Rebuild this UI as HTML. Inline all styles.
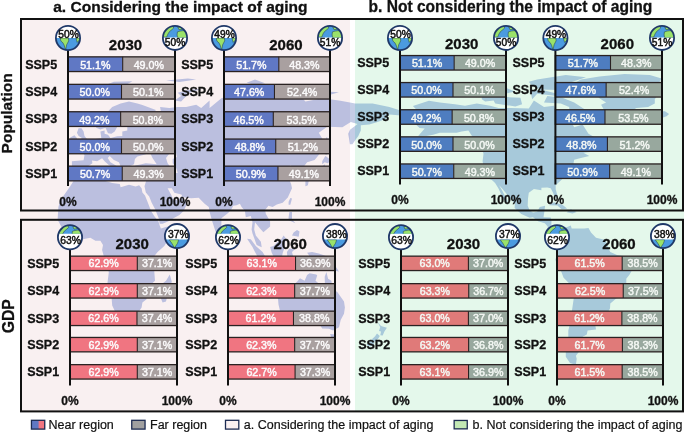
<!DOCTYPE html>
<html><head><meta charset="utf-8"><style>
html,body{margin:0;padding:0;background:#fff;}
body{width:685px;height:433px;position:relative;overflow:hidden;font-family:"Liberation Sans", sans-serif;}
svg{will-change:transform;}
</style></head><body>
<svg width="685" height="433" viewBox="0 0 685 433" style="position:absolute;left:0;top:0" font-family='"Liberation Sans", sans-serif'><defs><clipPath id="clipA"><rect x="20" y="18" width="330" height="394"/></clipPath><clipPath id="clipB"><rect x="355" y="18" width="329" height="394"/></clipPath><clipPath id="clipG"><rect x="350" y="18" width="5" height="394"/></clipPath></defs><rect width="685" height="433" fill="#ffffff"/><rect x="20" y="18" width="330" height="394" fill="#f9f0f1"/><rect x="355" y="18" width="329" height="394" fill="#e4f8eb"/><g clip-path="url(#clipA)"><path d="M76.9,175.8L70.2,186.2L60.1,200.7L58.4,206.9L57.6,219.8L61.8,227.4L65.2,233.6L73.6,240.8L80.3,239.7L90.4,237.7L95.4,240.8L100.4,240.8L103.0,244.9L102.1,250.0L103.8,256.2L107.2,262.3L108.8,272.6L107.2,284.9L111.4,295.2L112.2,305.5L117.2,315.9L118.1,320.9L120.6,321.7L130.7,320.0L137.4,313.8L141.6,307.6L142.4,302.4L146.6,299.3L146.3,293.1L148.3,286.9L155.0,280.8L154.2,270.5L152.5,262.3L154.2,256.2L157.6,252.1L164.3,245.9L169.3,237.7L172.7,228.5L172.7,225.4L166.0,227.0L160.9,228.5L159.7,225.4L158.4,221.3L154.2,216.1L151.7,212.0L149.5,206.9L147.5,201.7L145.0,195.5L142.4,192.4L141.6,188.3L139.1,185.2L135.7,186.4L129.0,184.7L120.6,187.2L119.8,184.1L112.2,183.1L105.5,181.0L103.8,173.7L100.4,173.7L92.0,174.1L83.6,177.7L76.9,175.8ZM169.8,274.6L171.8,281.8L170.2,285.9L167.6,295.2L166.0,301.4L162.6,302.4L160.4,297.3L160.9,291.1L161.8,283.9L166.0,280.8ZM71.9,170.2L71.9,161.2L83.6,160.3L84.5,154.9L79.4,149.6L85.3,147.5L90.4,144.3L93.7,142.2L95.4,139.0L101.3,138.0L100.4,131.6L104.6,130.5L104.6,133.7L108.0,134.8L110.5,138.0L117.2,136.3L122.3,135.9L122.3,131.6L127.3,130.5L127.3,126.3L134.0,125.2L125.6,124.1L123.1,123.0L123.1,118.7L129.0,114.4L124.0,112.7L116.4,119.8L118.1,125.2L114.7,131.6L111.4,133.7L108.0,133.3L105.5,127.8L100.4,129.5L96.2,127.8L95.4,122.0L100.4,117.7L107.2,112.3L112.2,106.9L120.6,103.6L129.0,101.4L137.4,103.6L142.4,105.1L155.9,110.1L154.2,112.3L145.8,116.6L150.8,115.5L160.9,111.9L160.1,106.9L169.3,108.0L177.7,106.9L186.1,106.9L196.2,104.7L201.2,108.0L209.6,100.4L209.6,108.0L221.4,98.2L233.2,94.9L251.6,89.4L261.7,86.8L275.2,90.5L276.8,95.6L300.4,96.0L305.4,101.4L322.2,98.2L339.0,100.4L355.8,103.6L372.6,103.6L389.4,106.9L406.2,112.3L401.2,115.5L389.4,114.4L386.0,118.7L377.6,122.0L369.2,124.5L360.8,125.2L360.8,130.5L358.3,135.9L352.4,144.3L349.9,144.3L348.2,133.7L349.9,129.9L357.5,124.1L350.8,122.0L342.4,127.3L327.2,126.7L318.8,132.7L323.0,140.1L323.9,148.6L322.2,150.7L314.6,160.1L307.1,162.2L304.6,165.4L302.9,170.6L304.6,176.8L299.5,178.9L298.7,172.7L296.2,168.5L291.1,169.6L292.8,166.4L290.3,165.4L285.2,169.6L286.9,173.3L292.8,172.9L288.6,177.9L291.1,184.1L292.0,188.3L287.8,197.6L282.7,202.7L276.8,204.4L272.6,206.9L268.4,205.8L265.1,210.0L265.9,214.1L270.1,221.3L270.1,226.4L263.4,232.2L260.0,228.5L255.0,222.3L254.2,229.5L255.8,235.6L260.9,241.8L261.7,247.3L256.7,244.9L252.5,233.6L251.6,229.5L252.5,222.3L250.8,216.1L245.8,217.2L244.9,211.0L241.6,206.9L239.9,203.8L236.5,205.2L233.2,205.8L231.5,209.3L228.1,213.1L221.4,218.2L221.4,228.5L218.0,233.6L215.5,231.5L212.2,221.3L209.6,212.0L208.8,206.9L204.6,203.8L202.1,201.3L198.7,197.8L191.2,198.2L182.8,197.2L181.4,194.5L174.4,192.8L171.8,188.3L167.6,188.3L171.0,194.5L173.5,199.7L177.7,200.3L181.9,195.9L187.0,203.8L183.6,211.0L179.4,215.1L174.4,217.8L168.5,221.3L162.6,223.7L159.7,223.7L158.7,218.2L155.0,208.9L151.7,202.7L149.2,196.6L145.8,192.4L144.5,186.2L145.8,182.0L147.5,176.8L144.1,174.6L137.4,175.4L132.4,173.7L131.5,167.5L135.7,165.4L145.8,163.3L156.7,164.3L152.5,158.0L150.0,152.8L143.3,154.9L137.4,156.4L134.9,159.1L134.0,164.3L130.7,165.8L127.3,166.4L125.6,168.5L124.8,173.7L123.1,173.7L122.3,170.6L119.8,164.3L118.9,162.2L113.9,160.1L109.7,155.9L107.7,158.0L110.5,162.2L113.9,164.3L118.1,167.0L114.7,169.6L113.9,171.6L113.2,167.5L108.8,165.0L104.6,161.2L102.1,158.2L97.1,161.2L92.0,160.6L92.4,163.3L87.8,166.4L86.5,168.9L87.0,170.6L83.6,174.3L77.8,175.8L76.1,173.9L72.0,173.7ZM77.4,146.4L89.5,143.9L89.9,140.7L87.0,139.0L84.5,135.9L83.6,131.6L81.5,128.2L78.6,128.2L76.9,132.7L78.6,135.9L82.0,138.0L79.3,139.5L79.4,142.2L78.1,142.9ZM76.9,141.8L76.9,138.0L74.4,135.2L70.2,137.6L70.2,143.1ZM654.8,116.6L651.5,113.4L654.8,111.4L664.9,111.2L669.1,114.0L666.6,116.2L661.6,117.9ZM221.4,237.7L224.4,235.6L223.1,230.5L221.1,232.6ZM305.4,186.2L307.9,185.2L308.8,180.4L313.8,181.0L316.8,178.9L322.2,177.9L323.9,171.6L325.6,168.5L324.7,164.3L322.2,166.4L321.4,171.6L317.2,173.7L315.5,176.6L310.4,176.8L307.1,178.9L305.4,181.0ZM322.2,164.3L324.7,162.2L327.7,163.3L331.4,160.6L325.6,155.9L324.7,157.0L322.2,161.2ZM325.6,154.9L328.1,153.8L327.2,148.6L328.9,147.9L327.2,137.3L326.4,137.3L325.6,144.3ZM288.6,204.8L290.3,204.8L292.0,198.6L290.3,198.0L288.6,201.7ZM269.3,211.0L273.5,210.0L271.8,208.9ZM288.6,220.2L291.1,221.3L295.3,223.3L292.0,219.2L292.0,212.0L289.4,212.0L288.6,217.2ZM292.0,235.6L298.7,236.7L299.5,231.5L297.0,229.9L293.6,232.6ZM270.1,246.9L273.5,245.9L276.8,242.8L281.0,239.7L283.6,235.6L286.9,239.7L285.2,241.0L284.4,247.9L282.7,253.1L281.9,257.2L279.4,257.2L273.5,256.2L271.8,253.1ZM247.1,238.7L250.8,239.3L255.8,245.9L262.6,252.1L265.1,256.2L264.9,261.9L262.6,261.9L258.4,258.2L255.0,252.1L252.5,246.9ZM263.7,263.9L265.1,262.3L270.1,263.9L276.0,263.9L279.4,265.8L279.4,267.6L271.8,266.8L265.9,265.2ZM287.8,261.3L289.4,261.3L289.4,255.1L291.1,259.8L293.6,258.2L292.0,252.1L297.0,246.9L293.6,249.0L289.4,248.4L286.9,252.1ZM307.1,252.7L312.1,252.1L318.8,253.5L323.9,255.3L330.6,258.2L334.8,262.3L335.6,266.4L339.0,271.5L334.0,270.5L328.9,266.0L323.9,268.5L318.8,266.4L319.7,263.3L313.8,259.0L309.6,258.2L308.8,255.1ZM277.7,295.2L278.5,304.5L280.2,311.7L280.2,320.0L285.2,322.1L293.6,319.6L298.7,316.5L307.1,314.8L313.8,321.7L318.0,318.0L318.8,323.2L322.2,328.4L328.9,328.8L333.1,330.4L339.0,327.3L340.7,320.0L344.0,313.8L344.9,307.6L344.0,301.4L340.3,296.2L337.3,292.1L332.6,289.0L331.4,280.8L328.1,278.7L326.4,271.9L324.7,276.7L324.9,283.9L323.0,285.9L320.5,284.9L315.5,280.8L317.2,275.6L316.3,274.6L309.6,273.2L307.1,275.0L304.6,280.8L300.0,278.3L297.0,281.8L292.3,285.9L290.3,290.0L283.6,292.5L278.5,294.8ZM330.1,334.0L336.1,334.4L335.6,338.8L333.6,340.1L331.1,337.1ZM377.1,320.9L380.2,325.2L381.8,326.3L386.9,327.7L384.4,331.5L382.7,335.5L380.3,335.3L381.0,331.5L379.0,330.9L380.2,327.3ZM377.0,333.6L379.8,336.1L378.1,338.8L374.3,342.0L373.6,344.9L369.7,346.4L366.7,345.1L370.1,340.9L375.1,336.3ZM409.6,113.1L418.0,111.2L412.9,106.0L428.9,100.8L439.8,102.5L454.9,104.3L465.0,105.8L476.8,103.6L490.2,105.8L498.6,108.0L510.4,108.0L528.8,108.4L533.9,100.4L544.0,106.9L554.0,105.8L557.4,114.4L561.6,119.8L570.8,121.3L574.2,127.3L582.6,124.5L588.5,133.7L596.0,138.0L597.7,143.3L592.7,151.7L583.4,152.8L589.3,155.9L580.9,158.0L574.2,159.7L573.4,163.9L567.5,166.4L565.0,170.6L564.1,173.9L565.0,177.3L562.4,178.9L559.1,182.0L555.7,185.2L555.7,189.3L557.4,195.5L556.6,198.2L554.5,196.6L552.9,192.4L550.7,188.3L547.3,187.4L541.4,187.7L541.4,190.3L533.9,189.1L528.8,192.8L528.0,198.6L527.7,205.8L529.7,210.4L533.0,212.6L537.2,211.8L539.8,206.9L545.1,205.8L544.3,212.0L543.5,217.2L550.7,217.6L551.5,221.3L551.2,227.4L554.9,231.5L558.2,230.5L561.6,232.6L560.8,234.6L557.4,234.6L554.5,233.6L547.8,229.5L547.7,226.4L544.8,223.3L538.1,221.3L533.0,217.2L529.7,217.8L521.3,214.1L514.6,207.9L514.9,203.8L509.5,197.6L502.8,189.3L499.1,185.2L502.0,190.3L507.0,199.7L507.8,202.7L503.6,199.0L500.3,192.4L498.6,188.7L495.1,183.1L491.9,180.0L489.2,178.9L486.0,172.7L483.5,166.4L482.6,161.2L483.5,153.8L482.3,149.8L485.2,148.6L477.6,144.8L472.6,136.9L468.4,130.5L461.6,131.6L456.6,132.7L446.5,132.7L439.8,132.7L433.1,134.8L426.4,135.9L418.0,136.3L424.7,128.4L419.6,128.0L415.4,124.1L413.8,119.8L421.3,115.5ZM569.2,86.1L580.9,79.5L599.4,76.6L624.6,73.9L649.8,75.0L661.6,78.4L658.2,83.9L661.6,89.4L654.8,99.3L654.8,103.6L648.1,106.9L636.4,108.0L628.0,113.1L622.9,119.8L619.6,125.2L614.5,123.5L607.8,118.7L605.3,112.3L601.1,104.7L606.1,102.5L599.4,98.2L594.4,91.6L580.9,89.4ZM587.6,111.2L584.3,115.5L580.9,119.8L572.5,119.2L567.5,115.5L560.8,116.0L569.2,111.2L569.2,106.9L560.8,103.6L544.0,102.5L547.3,96.0L562.4,97.7L574.2,102.5L579.2,105.8ZM493.6,100.4L495.2,103.6L515.4,106.4L522.1,104.3L520.4,97.7L507.0,97.1L493.6,96.0L481.8,99.3L485.2,101.4ZM540.6,89.4L557.4,90.1L565.8,83.9L586.0,77.3L565.8,75.0L537.2,79.5L528.8,81.7L532.2,86.1ZM557.4,96.0L537.2,93.8L532.2,99.3L530.5,91.6L540.6,89.6L557.4,93.8ZM481.8,99.3L498.6,94.9L515.4,91.6L507.0,88.3L490.2,89.4L481.8,94.9ZM561.6,232.6L565.8,227.4L570.8,225.4L571.7,228.5L577.6,228.5L584.3,228.5L588.5,228.1L591.0,232.6L596.0,237.7L604.4,239.7L606.1,241.8L607.8,246.9L610.3,252.1L617.0,255.1L624.6,256.2L629.6,260.3L633.0,262.3L633.0,268.5L629.6,274.6L626.3,278.7L626.3,285.9L623.8,292.1L621.2,297.3L616.2,298.5L610.3,303.4L610.0,308.6L607.0,313.8L602.8,320.0L599.4,322.1L595.2,324.2L596.0,329.4L587.6,330.4L586.8,334.6L582.6,336.7L583.4,338.8L581.8,343.0L578.4,346.2L580.9,349.3L575.9,355.7L576.7,358.8L575.9,364.8L570.0,363.1L565.8,356.7L565.8,349.3L568.3,338.8L568.3,330.4L571.5,318.0L571.8,311.7L573.9,297.3L573.7,287.8L570.8,284.9L563.6,277.7L560.8,270.5L556.1,262.3L555.4,259.2L557.4,255.1L556.6,251.0L558.2,246.9L559.4,246.3L561.6,241.8L561.9,236.7ZM549.0,205.2L554.0,202.3L562.4,204.8L567.1,208.5L561.6,209.3L557.4,205.4ZM566.6,212.2L570.8,209.3L576.7,212.0L572.5,213.5ZM174.4,100.4L181.1,96.0L177.7,92.7L187.8,89.9L202.1,88.8L189.5,92.7L181.1,101.4ZM105.5,85.0L113.9,81.7L132.4,81.3L124.0,86.1L115.6,89.2ZM246.6,82.8L255.0,79.5L265.1,83.2L255.0,85.0ZM315.5,94.9L325.6,91.6L339.0,92.3L323.9,96.6ZM166.0,80.6L187.8,78.4L196.2,79.5L179.4,82.1Z" fill="#bbbfdf"/><path d="M166.0,158.0L169.3,153.8L176.0,152.8L176.9,157.0L172.7,159.1L172.7,163.3L176.0,167.5L177.7,173.1L171.0,173.1L169.3,170.6L170.2,166.8L167.6,163.3Z" fill="#f9f0f1"/></g><g clip-path="url(#clipB)"><path d="M76.9,175.8L70.2,186.2L60.1,200.7L58.4,206.9L57.6,219.8L61.8,227.4L65.2,233.6L73.6,240.8L80.3,239.7L90.4,237.7L95.4,240.8L100.4,240.8L103.0,244.9L102.1,250.0L103.8,256.2L107.2,262.3L108.8,272.6L107.2,284.9L111.4,295.2L112.2,305.5L117.2,315.9L118.1,320.9L120.6,321.7L130.7,320.0L137.4,313.8L141.6,307.6L142.4,302.4L146.6,299.3L146.3,293.1L148.3,286.9L155.0,280.8L154.2,270.5L152.5,262.3L154.2,256.2L157.6,252.1L164.3,245.9L169.3,237.7L172.7,228.5L172.7,225.4L166.0,227.0L160.9,228.5L159.7,225.4L158.4,221.3L154.2,216.1L151.7,212.0L149.5,206.9L147.5,201.7L145.0,195.5L142.4,192.4L141.6,188.3L139.1,185.2L135.7,186.4L129.0,184.7L120.6,187.2L119.8,184.1L112.2,183.1L105.5,181.0L103.8,173.7L100.4,173.7L92.0,174.1L83.6,177.7L76.9,175.8ZM169.8,274.6L171.8,281.8L170.2,285.9L167.6,295.2L166.0,301.4L162.6,302.4L160.4,297.3L160.9,291.1L161.8,283.9L166.0,280.8ZM71.9,170.2L71.9,161.2L83.6,160.3L84.5,154.9L79.4,149.6L85.3,147.5L90.4,144.3L93.7,142.2L95.4,139.0L101.3,138.0L100.4,131.6L104.6,130.5L104.6,133.7L108.0,134.8L110.5,138.0L117.2,136.3L122.3,135.9L122.3,131.6L127.3,130.5L127.3,126.3L134.0,125.2L125.6,124.1L123.1,123.0L123.1,118.7L129.0,114.4L124.0,112.7L116.4,119.8L118.1,125.2L114.7,131.6L111.4,133.7L108.0,133.3L105.5,127.8L100.4,129.5L96.2,127.8L95.4,122.0L100.4,117.7L107.2,112.3L112.2,106.9L120.6,103.6L129.0,101.4L137.4,103.6L142.4,105.1L155.9,110.1L154.2,112.3L145.8,116.6L150.8,115.5L160.9,111.9L160.1,106.9L169.3,108.0L177.7,106.9L186.1,106.9L196.2,104.7L201.2,108.0L209.6,100.4L209.6,108.0L221.4,98.2L233.2,94.9L251.6,89.4L261.7,86.8L275.2,90.5L276.8,95.6L300.4,96.0L305.4,101.4L322.2,98.2L339.0,100.4L355.8,103.6L372.6,103.6L389.4,106.9L406.2,112.3L401.2,115.5L389.4,114.4L386.0,118.7L377.6,122.0L369.2,124.5L360.8,125.2L360.8,130.5L358.3,135.9L352.4,144.3L349.9,144.3L348.2,133.7L349.9,129.9L357.5,124.1L350.8,122.0L342.4,127.3L327.2,126.7L318.8,132.7L323.0,140.1L323.9,148.6L322.2,150.7L314.6,160.1L307.1,162.2L304.6,165.4L302.9,170.6L304.6,176.8L299.5,178.9L298.7,172.7L296.2,168.5L291.1,169.6L292.8,166.4L290.3,165.4L285.2,169.6L286.9,173.3L292.8,172.9L288.6,177.9L291.1,184.1L292.0,188.3L287.8,197.6L282.7,202.7L276.8,204.4L272.6,206.9L268.4,205.8L265.1,210.0L265.9,214.1L270.1,221.3L270.1,226.4L263.4,232.2L260.0,228.5L255.0,222.3L254.2,229.5L255.8,235.6L260.9,241.8L261.7,247.3L256.7,244.9L252.5,233.6L251.6,229.5L252.5,222.3L250.8,216.1L245.8,217.2L244.9,211.0L241.6,206.9L239.9,203.8L236.5,205.2L233.2,205.8L231.5,209.3L228.1,213.1L221.4,218.2L221.4,228.5L218.0,233.6L215.5,231.5L212.2,221.3L209.6,212.0L208.8,206.9L204.6,203.8L202.1,201.3L198.7,197.8L191.2,198.2L182.8,197.2L181.4,194.5L174.4,192.8L171.8,188.3L167.6,188.3L171.0,194.5L173.5,199.7L177.7,200.3L181.9,195.9L187.0,203.8L183.6,211.0L179.4,215.1L174.4,217.8L168.5,221.3L162.6,223.7L159.7,223.7L158.7,218.2L155.0,208.9L151.7,202.7L149.2,196.6L145.8,192.4L144.5,186.2L145.8,182.0L147.5,176.8L144.1,174.6L137.4,175.4L132.4,173.7L131.5,167.5L135.7,165.4L145.8,163.3L156.7,164.3L152.5,158.0L150.0,152.8L143.3,154.9L137.4,156.4L134.9,159.1L134.0,164.3L130.7,165.8L127.3,166.4L125.6,168.5L124.8,173.7L123.1,173.7L122.3,170.6L119.8,164.3L118.9,162.2L113.9,160.1L109.7,155.9L107.7,158.0L110.5,162.2L113.9,164.3L118.1,167.0L114.7,169.6L113.9,171.6L113.2,167.5L108.8,165.0L104.6,161.2L102.1,158.2L97.1,161.2L92.0,160.6L92.4,163.3L87.8,166.4L86.5,168.9L87.0,170.6L83.6,174.3L77.8,175.8L76.1,173.9L72.0,173.7ZM77.4,146.4L89.5,143.9L89.9,140.7L87.0,139.0L84.5,135.9L83.6,131.6L81.5,128.2L78.6,128.2L76.9,132.7L78.6,135.9L82.0,138.0L79.3,139.5L79.4,142.2L78.1,142.9ZM76.9,141.8L76.9,138.0L74.4,135.2L70.2,137.6L70.2,143.1ZM654.8,116.6L651.5,113.4L654.8,111.4L664.9,111.2L669.1,114.0L666.6,116.2L661.6,117.9ZM221.4,237.7L224.4,235.6L223.1,230.5L221.1,232.6ZM305.4,186.2L307.9,185.2L308.8,180.4L313.8,181.0L316.8,178.9L322.2,177.9L323.9,171.6L325.6,168.5L324.7,164.3L322.2,166.4L321.4,171.6L317.2,173.7L315.5,176.6L310.4,176.8L307.1,178.9L305.4,181.0ZM322.2,164.3L324.7,162.2L327.7,163.3L331.4,160.6L325.6,155.9L324.7,157.0L322.2,161.2ZM325.6,154.9L328.1,153.8L327.2,148.6L328.9,147.9L327.2,137.3L326.4,137.3L325.6,144.3ZM288.6,204.8L290.3,204.8L292.0,198.6L290.3,198.0L288.6,201.7ZM269.3,211.0L273.5,210.0L271.8,208.9ZM288.6,220.2L291.1,221.3L295.3,223.3L292.0,219.2L292.0,212.0L289.4,212.0L288.6,217.2ZM292.0,235.6L298.7,236.7L299.5,231.5L297.0,229.9L293.6,232.6ZM270.1,246.9L273.5,245.9L276.8,242.8L281.0,239.7L283.6,235.6L286.9,239.7L285.2,241.0L284.4,247.9L282.7,253.1L281.9,257.2L279.4,257.2L273.5,256.2L271.8,253.1ZM247.1,238.7L250.8,239.3L255.8,245.9L262.6,252.1L265.1,256.2L264.9,261.9L262.6,261.9L258.4,258.2L255.0,252.1L252.5,246.9ZM263.7,263.9L265.1,262.3L270.1,263.9L276.0,263.9L279.4,265.8L279.4,267.6L271.8,266.8L265.9,265.2ZM287.8,261.3L289.4,261.3L289.4,255.1L291.1,259.8L293.6,258.2L292.0,252.1L297.0,246.9L293.6,249.0L289.4,248.4L286.9,252.1ZM307.1,252.7L312.1,252.1L318.8,253.5L323.9,255.3L330.6,258.2L334.8,262.3L335.6,266.4L339.0,271.5L334.0,270.5L328.9,266.0L323.9,268.5L318.8,266.4L319.7,263.3L313.8,259.0L309.6,258.2L308.8,255.1ZM277.7,295.2L278.5,304.5L280.2,311.7L280.2,320.0L285.2,322.1L293.6,319.6L298.7,316.5L307.1,314.8L313.8,321.7L318.0,318.0L318.8,323.2L322.2,328.4L328.9,328.8L333.1,330.4L339.0,327.3L340.7,320.0L344.0,313.8L344.9,307.6L344.0,301.4L340.3,296.2L337.3,292.1L332.6,289.0L331.4,280.8L328.1,278.7L326.4,271.9L324.7,276.7L324.9,283.9L323.0,285.9L320.5,284.9L315.5,280.8L317.2,275.6L316.3,274.6L309.6,273.2L307.1,275.0L304.6,280.8L300.0,278.3L297.0,281.8L292.3,285.9L290.3,290.0L283.6,292.5L278.5,294.8ZM330.1,334.0L336.1,334.4L335.6,338.8L333.6,340.1L331.1,337.1ZM377.1,320.9L380.2,325.2L381.8,326.3L386.9,327.7L384.4,331.5L382.7,335.5L380.3,335.3L381.0,331.5L379.0,330.9L380.2,327.3ZM377.0,333.6L379.8,336.1L378.1,338.8L374.3,342.0L373.6,344.9L369.7,346.4L366.7,345.1L370.1,340.9L375.1,336.3ZM409.6,113.1L418.0,111.2L412.9,106.0L428.9,100.8L439.8,102.5L454.9,104.3L465.0,105.8L476.8,103.6L490.2,105.8L498.6,108.0L510.4,108.0L528.8,108.4L533.9,100.4L544.0,106.9L554.0,105.8L557.4,114.4L561.6,119.8L570.8,121.3L574.2,127.3L582.6,124.5L588.5,133.7L596.0,138.0L597.7,143.3L592.7,151.7L583.4,152.8L589.3,155.9L580.9,158.0L574.2,159.7L573.4,163.9L567.5,166.4L565.0,170.6L564.1,173.9L565.0,177.3L562.4,178.9L559.1,182.0L555.7,185.2L555.7,189.3L557.4,195.5L556.6,198.2L554.5,196.6L552.9,192.4L550.7,188.3L547.3,187.4L541.4,187.7L541.4,190.3L533.9,189.1L528.8,192.8L528.0,198.6L527.7,205.8L529.7,210.4L533.0,212.6L537.2,211.8L539.8,206.9L545.1,205.8L544.3,212.0L543.5,217.2L550.7,217.6L551.5,221.3L551.2,227.4L554.9,231.5L558.2,230.5L561.6,232.6L560.8,234.6L557.4,234.6L554.5,233.6L547.8,229.5L547.7,226.4L544.8,223.3L538.1,221.3L533.0,217.2L529.7,217.8L521.3,214.1L514.6,207.9L514.9,203.8L509.5,197.6L502.8,189.3L499.1,185.2L502.0,190.3L507.0,199.7L507.8,202.7L503.6,199.0L500.3,192.4L498.6,188.7L495.1,183.1L491.9,180.0L489.2,178.9L486.0,172.7L483.5,166.4L482.6,161.2L483.5,153.8L482.3,149.8L485.2,148.6L477.6,144.8L472.6,136.9L468.4,130.5L461.6,131.6L456.6,132.7L446.5,132.7L439.8,132.7L433.1,134.8L426.4,135.9L418.0,136.3L424.7,128.4L419.6,128.0L415.4,124.1L413.8,119.8L421.3,115.5ZM569.2,86.1L580.9,79.5L599.4,76.6L624.6,73.9L649.8,75.0L661.6,78.4L658.2,83.9L661.6,89.4L654.8,99.3L654.8,103.6L648.1,106.9L636.4,108.0L628.0,113.1L622.9,119.8L619.6,125.2L614.5,123.5L607.8,118.7L605.3,112.3L601.1,104.7L606.1,102.5L599.4,98.2L594.4,91.6L580.9,89.4ZM587.6,111.2L584.3,115.5L580.9,119.8L572.5,119.2L567.5,115.5L560.8,116.0L569.2,111.2L569.2,106.9L560.8,103.6L544.0,102.5L547.3,96.0L562.4,97.7L574.2,102.5L579.2,105.8ZM493.6,100.4L495.2,103.6L515.4,106.4L522.1,104.3L520.4,97.7L507.0,97.1L493.6,96.0L481.8,99.3L485.2,101.4ZM540.6,89.4L557.4,90.1L565.8,83.9L586.0,77.3L565.8,75.0L537.2,79.5L528.8,81.7L532.2,86.1ZM557.4,96.0L537.2,93.8L532.2,99.3L530.5,91.6L540.6,89.6L557.4,93.8ZM481.8,99.3L498.6,94.9L515.4,91.6L507.0,88.3L490.2,89.4L481.8,94.9ZM561.6,232.6L565.8,227.4L570.8,225.4L571.7,228.5L577.6,228.5L584.3,228.5L588.5,228.1L591.0,232.6L596.0,237.7L604.4,239.7L606.1,241.8L607.8,246.9L610.3,252.1L617.0,255.1L624.6,256.2L629.6,260.3L633.0,262.3L633.0,268.5L629.6,274.6L626.3,278.7L626.3,285.9L623.8,292.1L621.2,297.3L616.2,298.5L610.3,303.4L610.0,308.6L607.0,313.8L602.8,320.0L599.4,322.1L595.2,324.2L596.0,329.4L587.6,330.4L586.8,334.6L582.6,336.7L583.4,338.8L581.8,343.0L578.4,346.2L580.9,349.3L575.9,355.7L576.7,358.8L575.9,364.8L570.0,363.1L565.8,356.7L565.8,349.3L568.3,338.8L568.3,330.4L571.5,318.0L571.8,311.7L573.9,297.3L573.7,287.8L570.8,284.9L563.6,277.7L560.8,270.5L556.1,262.3L555.4,259.2L557.4,255.1L556.6,251.0L558.2,246.9L559.4,246.3L561.6,241.8L561.9,236.7ZM549.0,205.2L554.0,202.3L562.4,204.8L567.1,208.5L561.6,209.3L557.4,205.4ZM566.6,212.2L570.8,209.3L576.7,212.0L572.5,213.5ZM174.4,100.4L181.1,96.0L177.7,92.7L187.8,89.9L202.1,88.8L189.5,92.7L181.1,101.4ZM105.5,85.0L113.9,81.7L132.4,81.3L124.0,86.1L115.6,89.2ZM246.6,82.8L255.0,79.5L265.1,83.2L255.0,85.0ZM315.5,94.9L325.6,91.6L339.0,92.3L323.9,96.6ZM166.0,80.6L187.8,78.4L196.2,79.5L179.4,82.1Z" fill="#a7c9da"/><path d="M166.0,158.0L169.3,153.8L176.0,152.8L176.9,157.0L172.7,159.1L172.7,163.3L176.0,167.5L177.7,173.1L171.0,173.1L169.3,170.6L170.2,166.8L167.6,163.3Z" fill="#e4f8eb"/></g><g clip-path="url(#clipG)"><path d="M76.9,175.8L70.2,186.2L60.1,200.7L58.4,206.9L57.6,219.8L61.8,227.4L65.2,233.6L73.6,240.8L80.3,239.7L90.4,237.7L95.4,240.8L100.4,240.8L103.0,244.9L102.1,250.0L103.8,256.2L107.2,262.3L108.8,272.6L107.2,284.9L111.4,295.2L112.2,305.5L117.2,315.9L118.1,320.9L120.6,321.7L130.7,320.0L137.4,313.8L141.6,307.6L142.4,302.4L146.6,299.3L146.3,293.1L148.3,286.9L155.0,280.8L154.2,270.5L152.5,262.3L154.2,256.2L157.6,252.1L164.3,245.9L169.3,237.7L172.7,228.5L172.7,225.4L166.0,227.0L160.9,228.5L159.7,225.4L158.4,221.3L154.2,216.1L151.7,212.0L149.5,206.9L147.5,201.7L145.0,195.5L142.4,192.4L141.6,188.3L139.1,185.2L135.7,186.4L129.0,184.7L120.6,187.2L119.8,184.1L112.2,183.1L105.5,181.0L103.8,173.7L100.4,173.7L92.0,174.1L83.6,177.7L76.9,175.8ZM169.8,274.6L171.8,281.8L170.2,285.9L167.6,295.2L166.0,301.4L162.6,302.4L160.4,297.3L160.9,291.1L161.8,283.9L166.0,280.8ZM71.9,170.2L71.9,161.2L83.6,160.3L84.5,154.9L79.4,149.6L85.3,147.5L90.4,144.3L93.7,142.2L95.4,139.0L101.3,138.0L100.4,131.6L104.6,130.5L104.6,133.7L108.0,134.8L110.5,138.0L117.2,136.3L122.3,135.9L122.3,131.6L127.3,130.5L127.3,126.3L134.0,125.2L125.6,124.1L123.1,123.0L123.1,118.7L129.0,114.4L124.0,112.7L116.4,119.8L118.1,125.2L114.7,131.6L111.4,133.7L108.0,133.3L105.5,127.8L100.4,129.5L96.2,127.8L95.4,122.0L100.4,117.7L107.2,112.3L112.2,106.9L120.6,103.6L129.0,101.4L137.4,103.6L142.4,105.1L155.9,110.1L154.2,112.3L145.8,116.6L150.8,115.5L160.9,111.9L160.1,106.9L169.3,108.0L177.7,106.9L186.1,106.9L196.2,104.7L201.2,108.0L209.6,100.4L209.6,108.0L221.4,98.2L233.2,94.9L251.6,89.4L261.7,86.8L275.2,90.5L276.8,95.6L300.4,96.0L305.4,101.4L322.2,98.2L339.0,100.4L355.8,103.6L372.6,103.6L389.4,106.9L406.2,112.3L401.2,115.5L389.4,114.4L386.0,118.7L377.6,122.0L369.2,124.5L360.8,125.2L360.8,130.5L358.3,135.9L352.4,144.3L349.9,144.3L348.2,133.7L349.9,129.9L357.5,124.1L350.8,122.0L342.4,127.3L327.2,126.7L318.8,132.7L323.0,140.1L323.9,148.6L322.2,150.7L314.6,160.1L307.1,162.2L304.6,165.4L302.9,170.6L304.6,176.8L299.5,178.9L298.7,172.7L296.2,168.5L291.1,169.6L292.8,166.4L290.3,165.4L285.2,169.6L286.9,173.3L292.8,172.9L288.6,177.9L291.1,184.1L292.0,188.3L287.8,197.6L282.7,202.7L276.8,204.4L272.6,206.9L268.4,205.8L265.1,210.0L265.9,214.1L270.1,221.3L270.1,226.4L263.4,232.2L260.0,228.5L255.0,222.3L254.2,229.5L255.8,235.6L260.9,241.8L261.7,247.3L256.7,244.9L252.5,233.6L251.6,229.5L252.5,222.3L250.8,216.1L245.8,217.2L244.9,211.0L241.6,206.9L239.9,203.8L236.5,205.2L233.2,205.8L231.5,209.3L228.1,213.1L221.4,218.2L221.4,228.5L218.0,233.6L215.5,231.5L212.2,221.3L209.6,212.0L208.8,206.9L204.6,203.8L202.1,201.3L198.7,197.8L191.2,198.2L182.8,197.2L181.4,194.5L174.4,192.8L171.8,188.3L167.6,188.3L171.0,194.5L173.5,199.7L177.7,200.3L181.9,195.9L187.0,203.8L183.6,211.0L179.4,215.1L174.4,217.8L168.5,221.3L162.6,223.7L159.7,223.7L158.7,218.2L155.0,208.9L151.7,202.7L149.2,196.6L145.8,192.4L144.5,186.2L145.8,182.0L147.5,176.8L144.1,174.6L137.4,175.4L132.4,173.7L131.5,167.5L135.7,165.4L145.8,163.3L156.7,164.3L152.5,158.0L150.0,152.8L143.3,154.9L137.4,156.4L134.9,159.1L134.0,164.3L130.7,165.8L127.3,166.4L125.6,168.5L124.8,173.7L123.1,173.7L122.3,170.6L119.8,164.3L118.9,162.2L113.9,160.1L109.7,155.9L107.7,158.0L110.5,162.2L113.9,164.3L118.1,167.0L114.7,169.6L113.9,171.6L113.2,167.5L108.8,165.0L104.6,161.2L102.1,158.2L97.1,161.2L92.0,160.6L92.4,163.3L87.8,166.4L86.5,168.9L87.0,170.6L83.6,174.3L77.8,175.8L76.1,173.9L72.0,173.7ZM77.4,146.4L89.5,143.9L89.9,140.7L87.0,139.0L84.5,135.9L83.6,131.6L81.5,128.2L78.6,128.2L76.9,132.7L78.6,135.9L82.0,138.0L79.3,139.5L79.4,142.2L78.1,142.9ZM76.9,141.8L76.9,138.0L74.4,135.2L70.2,137.6L70.2,143.1ZM654.8,116.6L651.5,113.4L654.8,111.4L664.9,111.2L669.1,114.0L666.6,116.2L661.6,117.9ZM221.4,237.7L224.4,235.6L223.1,230.5L221.1,232.6ZM305.4,186.2L307.9,185.2L308.8,180.4L313.8,181.0L316.8,178.9L322.2,177.9L323.9,171.6L325.6,168.5L324.7,164.3L322.2,166.4L321.4,171.6L317.2,173.7L315.5,176.6L310.4,176.8L307.1,178.9L305.4,181.0ZM322.2,164.3L324.7,162.2L327.7,163.3L331.4,160.6L325.6,155.9L324.7,157.0L322.2,161.2ZM325.6,154.9L328.1,153.8L327.2,148.6L328.9,147.9L327.2,137.3L326.4,137.3L325.6,144.3ZM288.6,204.8L290.3,204.8L292.0,198.6L290.3,198.0L288.6,201.7ZM269.3,211.0L273.5,210.0L271.8,208.9ZM288.6,220.2L291.1,221.3L295.3,223.3L292.0,219.2L292.0,212.0L289.4,212.0L288.6,217.2ZM292.0,235.6L298.7,236.7L299.5,231.5L297.0,229.9L293.6,232.6ZM270.1,246.9L273.5,245.9L276.8,242.8L281.0,239.7L283.6,235.6L286.9,239.7L285.2,241.0L284.4,247.9L282.7,253.1L281.9,257.2L279.4,257.2L273.5,256.2L271.8,253.1ZM247.1,238.7L250.8,239.3L255.8,245.9L262.6,252.1L265.1,256.2L264.9,261.9L262.6,261.9L258.4,258.2L255.0,252.1L252.5,246.9ZM263.7,263.9L265.1,262.3L270.1,263.9L276.0,263.9L279.4,265.8L279.4,267.6L271.8,266.8L265.9,265.2ZM287.8,261.3L289.4,261.3L289.4,255.1L291.1,259.8L293.6,258.2L292.0,252.1L297.0,246.9L293.6,249.0L289.4,248.4L286.9,252.1ZM307.1,252.7L312.1,252.1L318.8,253.5L323.9,255.3L330.6,258.2L334.8,262.3L335.6,266.4L339.0,271.5L334.0,270.5L328.9,266.0L323.9,268.5L318.8,266.4L319.7,263.3L313.8,259.0L309.6,258.2L308.8,255.1ZM277.7,295.2L278.5,304.5L280.2,311.7L280.2,320.0L285.2,322.1L293.6,319.6L298.7,316.5L307.1,314.8L313.8,321.7L318.0,318.0L318.8,323.2L322.2,328.4L328.9,328.8L333.1,330.4L339.0,327.3L340.7,320.0L344.0,313.8L344.9,307.6L344.0,301.4L340.3,296.2L337.3,292.1L332.6,289.0L331.4,280.8L328.1,278.7L326.4,271.9L324.7,276.7L324.9,283.9L323.0,285.9L320.5,284.9L315.5,280.8L317.2,275.6L316.3,274.6L309.6,273.2L307.1,275.0L304.6,280.8L300.0,278.3L297.0,281.8L292.3,285.9L290.3,290.0L283.6,292.5L278.5,294.8ZM330.1,334.0L336.1,334.4L335.6,338.8L333.6,340.1L331.1,337.1ZM377.1,320.9L380.2,325.2L381.8,326.3L386.9,327.7L384.4,331.5L382.7,335.5L380.3,335.3L381.0,331.5L379.0,330.9L380.2,327.3ZM377.0,333.6L379.8,336.1L378.1,338.8L374.3,342.0L373.6,344.9L369.7,346.4L366.7,345.1L370.1,340.9L375.1,336.3ZM409.6,113.1L418.0,111.2L412.9,106.0L428.9,100.8L439.8,102.5L454.9,104.3L465.0,105.8L476.8,103.6L490.2,105.8L498.6,108.0L510.4,108.0L528.8,108.4L533.9,100.4L544.0,106.9L554.0,105.8L557.4,114.4L561.6,119.8L570.8,121.3L574.2,127.3L582.6,124.5L588.5,133.7L596.0,138.0L597.7,143.3L592.7,151.7L583.4,152.8L589.3,155.9L580.9,158.0L574.2,159.7L573.4,163.9L567.5,166.4L565.0,170.6L564.1,173.9L565.0,177.3L562.4,178.9L559.1,182.0L555.7,185.2L555.7,189.3L557.4,195.5L556.6,198.2L554.5,196.6L552.9,192.4L550.7,188.3L547.3,187.4L541.4,187.7L541.4,190.3L533.9,189.1L528.8,192.8L528.0,198.6L527.7,205.8L529.7,210.4L533.0,212.6L537.2,211.8L539.8,206.9L545.1,205.8L544.3,212.0L543.5,217.2L550.7,217.6L551.5,221.3L551.2,227.4L554.9,231.5L558.2,230.5L561.6,232.6L560.8,234.6L557.4,234.6L554.5,233.6L547.8,229.5L547.7,226.4L544.8,223.3L538.1,221.3L533.0,217.2L529.7,217.8L521.3,214.1L514.6,207.9L514.9,203.8L509.5,197.6L502.8,189.3L499.1,185.2L502.0,190.3L507.0,199.7L507.8,202.7L503.6,199.0L500.3,192.4L498.6,188.7L495.1,183.1L491.9,180.0L489.2,178.9L486.0,172.7L483.5,166.4L482.6,161.2L483.5,153.8L482.3,149.8L485.2,148.6L477.6,144.8L472.6,136.9L468.4,130.5L461.6,131.6L456.6,132.7L446.5,132.7L439.8,132.7L433.1,134.8L426.4,135.9L418.0,136.3L424.7,128.4L419.6,128.0L415.4,124.1L413.8,119.8L421.3,115.5ZM569.2,86.1L580.9,79.5L599.4,76.6L624.6,73.9L649.8,75.0L661.6,78.4L658.2,83.9L661.6,89.4L654.8,99.3L654.8,103.6L648.1,106.9L636.4,108.0L628.0,113.1L622.9,119.8L619.6,125.2L614.5,123.5L607.8,118.7L605.3,112.3L601.1,104.7L606.1,102.5L599.4,98.2L594.4,91.6L580.9,89.4ZM587.6,111.2L584.3,115.5L580.9,119.8L572.5,119.2L567.5,115.5L560.8,116.0L569.2,111.2L569.2,106.9L560.8,103.6L544.0,102.5L547.3,96.0L562.4,97.7L574.2,102.5L579.2,105.8ZM493.6,100.4L495.2,103.6L515.4,106.4L522.1,104.3L520.4,97.7L507.0,97.1L493.6,96.0L481.8,99.3L485.2,101.4ZM540.6,89.4L557.4,90.1L565.8,83.9L586.0,77.3L565.8,75.0L537.2,79.5L528.8,81.7L532.2,86.1ZM557.4,96.0L537.2,93.8L532.2,99.3L530.5,91.6L540.6,89.6L557.4,93.8ZM481.8,99.3L498.6,94.9L515.4,91.6L507.0,88.3L490.2,89.4L481.8,94.9ZM561.6,232.6L565.8,227.4L570.8,225.4L571.7,228.5L577.6,228.5L584.3,228.5L588.5,228.1L591.0,232.6L596.0,237.7L604.4,239.7L606.1,241.8L607.8,246.9L610.3,252.1L617.0,255.1L624.6,256.2L629.6,260.3L633.0,262.3L633.0,268.5L629.6,274.6L626.3,278.7L626.3,285.9L623.8,292.1L621.2,297.3L616.2,298.5L610.3,303.4L610.0,308.6L607.0,313.8L602.8,320.0L599.4,322.1L595.2,324.2L596.0,329.4L587.6,330.4L586.8,334.6L582.6,336.7L583.4,338.8L581.8,343.0L578.4,346.2L580.9,349.3L575.9,355.7L576.7,358.8L575.9,364.8L570.0,363.1L565.8,356.7L565.8,349.3L568.3,338.8L568.3,330.4L571.5,318.0L571.8,311.7L573.9,297.3L573.7,287.8L570.8,284.9L563.6,277.7L560.8,270.5L556.1,262.3L555.4,259.2L557.4,255.1L556.6,251.0L558.2,246.9L559.4,246.3L561.6,241.8L561.9,236.7ZM549.0,205.2L554.0,202.3L562.4,204.8L567.1,208.5L561.6,209.3L557.4,205.4ZM566.6,212.2L570.8,209.3L576.7,212.0L572.5,213.5ZM174.4,100.4L181.1,96.0L177.7,92.7L187.8,89.9L202.1,88.8L189.5,92.7L181.1,101.4ZM105.5,85.0L113.9,81.7L132.4,81.3L124.0,86.1L115.6,89.2ZM246.6,82.8L255.0,79.5L265.1,83.2L255.0,85.0ZM315.5,94.9L325.6,91.6L339.0,92.3L323.9,96.6ZM166.0,80.6L187.8,78.4L196.2,79.5L179.4,82.1Z" fill="#c4cde6"/><path d="M166.0,158.0L169.3,153.8L176.0,152.8L176.9,157.0L172.7,159.1L172.7,163.3L176.0,167.5L177.7,173.1L171.0,173.1L169.3,170.6L170.2,166.8L167.6,163.3Z" fill="#ffffff"/></g><text x="180.4" y="12.4" text-anchor="middle" font-size="15.52" font-weight="bold" fill="#111" stroke="#111" stroke-width="0.3">a. Considering the impact of aging</text><text x="510.4" y="12.4" text-anchor="middle" font-size="15.58" font-weight="bold" fill="#111" stroke="#111" stroke-width="0.3">b. Not considering the impact of aging</text><rect x="21" y="19" width="662" height="191.5" fill="none" stroke="#111" stroke-width="2"/><rect x="21" y="219.8" width="662" height="191.6" fill="none" stroke="#111" stroke-width="2"/><text transform="translate(12.1,113.4) rotate(-90)" text-anchor="middle" font-size="15.5" font-weight="bold" fill="#111" stroke="#111" stroke-width="0.3">Population</text><text transform="translate(14.0,316.2) rotate(-90)" text-anchor="middle" font-size="15.7" font-weight="bold" fill="#111" stroke="#111" stroke-width="0.3">GDP</text><rect x="68" y="56.85" width="54.68" height="14.70" fill="#6078c4"/><rect x="122.68" y="56.85" width="52.32" height="14.70" fill="#a9a0a0"/><rect x="68" y="56.85" width="107" height="14.70" fill="none" stroke="#2a2222" stroke-width="1.3"/><line x1="122.68" y1="56.85" x2="122.68" y2="71.55" stroke="#2a2222" stroke-width="1.1"/><text x="95.34" y="68.60" text-anchor="middle" font-size="10.7" fill="#fbfafb" stroke="#fbfafb" stroke-width="0.45">51.1%</text><text x="148.84" y="68.60" text-anchor="middle" font-size="10.7" fill="#fbfafb" stroke="#fbfafb" stroke-width="0.45">49.0%</text><text x="57.1" y="68.50" text-anchor="end" font-size="12.5" font-weight="bold" fill="#111" stroke="#111" stroke-width="0.3">SSP5</text><rect x="68" y="84.35" width="53.50" height="14.70" fill="#6078c4"/><rect x="121.50" y="84.35" width="53.50" height="14.70" fill="#a9a0a0"/><rect x="68" y="84.35" width="107" height="14.70" fill="none" stroke="#2a2222" stroke-width="1.3"/><line x1="121.50" y1="84.35" x2="121.50" y2="99.05" stroke="#2a2222" stroke-width="1.1"/><text x="94.75" y="96.10" text-anchor="middle" font-size="10.7" fill="#fbfafb" stroke="#fbfafb" stroke-width="0.45">50.0%</text><text x="148.25" y="96.10" text-anchor="middle" font-size="10.7" fill="#fbfafb" stroke="#fbfafb" stroke-width="0.45">50.1%</text><text x="57.1" y="96.00" text-anchor="end" font-size="12.5" font-weight="bold" fill="#111" stroke="#111" stroke-width="0.3">SSP4</text><rect x="68" y="111.75" width="52.64" height="14.70" fill="#6078c4"/><rect x="120.64" y="111.75" width="54.36" height="14.70" fill="#a9a0a0"/><rect x="68" y="111.75" width="107" height="14.70" fill="none" stroke="#2a2222" stroke-width="1.3"/><line x1="120.64" y1="111.75" x2="120.64" y2="126.45" stroke="#2a2222" stroke-width="1.1"/><text x="94.32" y="123.50" text-anchor="middle" font-size="10.7" fill="#fbfafb" stroke="#fbfafb" stroke-width="0.45">49.2%</text><text x="147.82" y="123.50" text-anchor="middle" font-size="10.7" fill="#fbfafb" stroke="#fbfafb" stroke-width="0.45">50.8%</text><text x="57.1" y="123.40" text-anchor="end" font-size="12.5" font-weight="bold" fill="#111" stroke="#111" stroke-width="0.3">SSP3</text><rect x="68" y="139.05" width="53.50" height="14.70" fill="#6078c4"/><rect x="121.50" y="139.05" width="53.50" height="14.70" fill="#a9a0a0"/><rect x="68" y="139.05" width="107" height="14.70" fill="none" stroke="#2a2222" stroke-width="1.3"/><line x1="121.50" y1="139.05" x2="121.50" y2="153.75" stroke="#2a2222" stroke-width="1.1"/><text x="94.75" y="150.80" text-anchor="middle" font-size="10.7" fill="#fbfafb" stroke="#fbfafb" stroke-width="0.45">50.0%</text><text x="148.25" y="150.80" text-anchor="middle" font-size="10.7" fill="#fbfafb" stroke="#fbfafb" stroke-width="0.45">50.0%</text><text x="57.1" y="150.70" text-anchor="end" font-size="12.5" font-weight="bold" fill="#111" stroke="#111" stroke-width="0.3">SSP2</text><rect x="68" y="166.15" width="54.25" height="14.70" fill="#6078c4"/><rect x="122.25" y="166.15" width="52.75" height="14.70" fill="#a9a0a0"/><rect x="68" y="166.15" width="107" height="14.70" fill="none" stroke="#2a2222" stroke-width="1.3"/><line x1="122.25" y1="166.15" x2="122.25" y2="180.85" stroke="#2a2222" stroke-width="1.1"/><text x="95.12" y="177.90" text-anchor="middle" font-size="10.7" fill="#fbfafb" stroke="#fbfafb" stroke-width="0.45">50.7%</text><text x="148.62" y="177.90" text-anchor="middle" font-size="10.7" fill="#fbfafb" stroke="#fbfafb" stroke-width="0.45">49.3%</text><text x="57.1" y="177.80" text-anchor="end" font-size="12.5" font-weight="bold" fill="#111" stroke="#111" stroke-width="0.3">SSP1</text><line x1="68" y1="50" x2="68" y2="186" stroke="#111" stroke-width="2"/><line x1="175" y1="50" x2="175" y2="186" stroke="#111" stroke-width="2"/><text x="125.5" y="49.9" text-anchor="middle" font-size="15" font-weight="bold" fill="#111" stroke="#111" stroke-width="0.3">2030</text><text x="68" y="205.5" text-anchor="middle" font-size="12" font-weight="bold" fill="#111" stroke="#111" stroke-width="0.3">0%</text><text x="175" y="205.5" text-anchor="middle" font-size="12" font-weight="bold" fill="#111" stroke="#111" stroke-width="0.3">100%</text><g transform="translate(68,38)"><circle r="12.1" fill="#ffffff"/><clipPath id="gr1"><rect x="-13" y="0" width="26" height="13.1"/></clipPath><clipPath id="gc1"><circle r="12.1"/></clipPath><g clip-path="url(#gr1)"><g clip-path="url(#gc1)"><circle r="12.1" fill="#4b9be0"/><path d="M-7.7,0L-7.4,2.2L-6.4,3.8L-5.1,4.8L-3.8,7.3L-2.6,11.2L-2.2,11.2L-1.3,6.7L-0.3,4.8L0.7,2.8L0.4,0Z" fill="#9ae26a" stroke="#203a40" stroke-width="0.5"/><path d="M8,0L8.5,2L9.2,4.4L10.5,3L12.5,1L12.5,0Z" fill="#9ae26a" stroke="#203a40" stroke-width="0.5"/></g></g><circle r="12.1" fill="none" stroke="#1f3868" stroke-width="1.8"/><text transform="translate(0.5,0.2) scale(1.0,1)" text-anchor="middle" font-size="10.2" fill="#111" stroke="#111" stroke-width="0.5">50%</text></g><g transform="translate(175,37.9)"><circle r="12.1" fill="#ffffff"/><clipPath id="gr2"><rect x="-13" y="-13.1" width="26" height="12.6"/></clipPath><clipPath id="gc2"><circle r="12.1"/></clipPath><g clip-path="url(#gr2)"><g clip-path="url(#gc2)"><circle r="12.1" fill="#4b9be0"/><path d="M-12.5,-0.8L-12,-4.8L-9.8,-8L-6.5,-10.6L-2.6,-12.2L-1.2,-10L-3.2,-8.2L-5.6,-6.2L-7,-4L-7.8,-2L-8.4,-0.8Z" fill="#9ae26a" stroke="#203a40" stroke-width="0.5"/><path d="M2.8,-10.8L6.5,-11L7.2,-8.6L4,-8.2Z" fill="#9ae26a" stroke="#203a40" stroke-width="0.5"/><path d="M2.4,-6L5,-6.8L8,-7.2L11,-6.8L12.8,-3L12.8,0L2.6,0L2.1,-3Z" fill="#9ae26a" stroke="#203a40" stroke-width="0.5"/></g></g><circle r="12.1" fill="none" stroke="#1f3868" stroke-width="1.8"/><text transform="translate(0.0,7.8) scale(1.0,1)" text-anchor="middle" font-size="10.2" fill="#111" stroke="#111" stroke-width="0.5">50%</text></g><rect x="224" y="56.85" width="54.80" height="14.70" fill="#6078c4"/><rect x="278.80" y="56.85" width="51.20" height="14.70" fill="#a9a0a0"/><rect x="224" y="56.85" width="106" height="14.70" fill="none" stroke="#2a2222" stroke-width="1.3"/><line x1="278.80" y1="56.85" x2="278.80" y2="71.55" stroke="#2a2222" stroke-width="1.1"/><text x="251.40" y="68.60" text-anchor="middle" font-size="10.7" fill="#fbfafb" stroke="#fbfafb" stroke-width="0.45">51.7%</text><text x="304.40" y="68.60" text-anchor="middle" font-size="10.7" fill="#fbfafb" stroke="#fbfafb" stroke-width="0.45">48.3%</text><text x="213.1" y="68.50" text-anchor="end" font-size="12.5" font-weight="bold" fill="#111" stroke="#111" stroke-width="0.3">SSP5</text><rect x="224" y="84.35" width="50.46" height="14.70" fill="#6078c4"/><rect x="274.46" y="84.35" width="55.54" height="14.70" fill="#a9a0a0"/><rect x="224" y="84.35" width="106" height="14.70" fill="none" stroke="#2a2222" stroke-width="1.3"/><line x1="274.46" y1="84.35" x2="274.46" y2="99.05" stroke="#2a2222" stroke-width="1.1"/><text x="249.23" y="96.10" text-anchor="middle" font-size="10.7" fill="#fbfafb" stroke="#fbfafb" stroke-width="0.45">47.6%</text><text x="302.23" y="96.10" text-anchor="middle" font-size="10.7" fill="#fbfafb" stroke="#fbfafb" stroke-width="0.45">52.4%</text><text x="213.1" y="96.00" text-anchor="end" font-size="12.5" font-weight="bold" fill="#111" stroke="#111" stroke-width="0.3">SSP4</text><rect x="224" y="111.75" width="49.29" height="14.70" fill="#6078c4"/><rect x="273.29" y="111.75" width="56.71" height="14.70" fill="#a9a0a0"/><rect x="224" y="111.75" width="106" height="14.70" fill="none" stroke="#2a2222" stroke-width="1.3"/><line x1="273.29" y1="111.75" x2="273.29" y2="126.45" stroke="#2a2222" stroke-width="1.1"/><text x="248.65" y="123.50" text-anchor="middle" font-size="10.7" fill="#fbfafb" stroke="#fbfafb" stroke-width="0.45">46.5%</text><text x="301.64" y="123.50" text-anchor="middle" font-size="10.7" fill="#fbfafb" stroke="#fbfafb" stroke-width="0.45">53.5%</text><text x="213.1" y="123.40" text-anchor="end" font-size="12.5" font-weight="bold" fill="#111" stroke="#111" stroke-width="0.3">SSP3</text><rect x="224" y="139.05" width="51.73" height="14.70" fill="#6078c4"/><rect x="275.73" y="139.05" width="54.27" height="14.70" fill="#a9a0a0"/><rect x="224" y="139.05" width="106" height="14.70" fill="none" stroke="#2a2222" stroke-width="1.3"/><line x1="275.73" y1="139.05" x2="275.73" y2="153.75" stroke="#2a2222" stroke-width="1.1"/><text x="249.86" y="150.80" text-anchor="middle" font-size="10.7" fill="#fbfafb" stroke="#fbfafb" stroke-width="0.45">48.8%</text><text x="302.86" y="150.80" text-anchor="middle" font-size="10.7" fill="#fbfafb" stroke="#fbfafb" stroke-width="0.45">51.2%</text><text x="213.1" y="150.70" text-anchor="end" font-size="12.5" font-weight="bold" fill="#111" stroke="#111" stroke-width="0.3">SSP2</text><rect x="224" y="166.15" width="53.95" height="14.70" fill="#6078c4"/><rect x="277.95" y="166.15" width="52.05" height="14.70" fill="#a9a0a0"/><rect x="224" y="166.15" width="106" height="14.70" fill="none" stroke="#2a2222" stroke-width="1.3"/><line x1="277.95" y1="166.15" x2="277.95" y2="180.85" stroke="#2a2222" stroke-width="1.1"/><text x="250.98" y="177.90" text-anchor="middle" font-size="10.7" fill="#fbfafb" stroke="#fbfafb" stroke-width="0.45">50.9%</text><text x="303.98" y="177.90" text-anchor="middle" font-size="10.7" fill="#fbfafb" stroke="#fbfafb" stroke-width="0.45">49.1%</text><text x="213.1" y="177.80" text-anchor="end" font-size="12.5" font-weight="bold" fill="#111" stroke="#111" stroke-width="0.3">SSP1</text><line x1="224" y1="50" x2="224" y2="186" stroke="#111" stroke-width="2"/><line x1="330" y1="50" x2="330" y2="186" stroke="#111" stroke-width="2"/><text x="285.9" y="49.9" text-anchor="middle" font-size="15" font-weight="bold" fill="#111" stroke="#111" stroke-width="0.3">2060</text><text x="224" y="205.5" text-anchor="middle" font-size="12" font-weight="bold" fill="#111" stroke="#111" stroke-width="0.3">0%</text><text x="330" y="205.5" text-anchor="middle" font-size="12" font-weight="bold" fill="#111" stroke="#111" stroke-width="0.3">100%</text><g transform="translate(224,38)"><circle r="12.1" fill="#ffffff"/><clipPath id="gr3"><rect x="-13" y="0" width="26" height="13.1"/></clipPath><clipPath id="gc3"><circle r="12.1"/></clipPath><g clip-path="url(#gr3)"><g clip-path="url(#gc3)"><circle r="12.1" fill="#4b9be0"/><path d="M-7.7,0L-7.4,2.2L-6.4,3.8L-5.1,4.8L-3.8,7.3L-2.6,11.2L-2.2,11.2L-1.3,6.7L-0.3,4.8L0.7,2.8L0.4,0Z" fill="#9ae26a" stroke="#203a40" stroke-width="0.5"/><path d="M8,0L8.5,2L9.2,4.4L10.5,3L12.5,1L12.5,0Z" fill="#9ae26a" stroke="#203a40" stroke-width="0.5"/></g></g><circle r="12.1" fill="none" stroke="#1f3868" stroke-width="1.8"/><text transform="translate(0.5,0.2) scale(1.0,1)" text-anchor="middle" font-size="10.2" fill="#111" stroke="#111" stroke-width="0.5">49%</text></g><g transform="translate(330,37.9)"><circle r="12.1" fill="#ffffff"/><clipPath id="gr4"><rect x="-13" y="-13.1" width="26" height="12.6"/></clipPath><clipPath id="gc4"><circle r="12.1"/></clipPath><g clip-path="url(#gr4)"><g clip-path="url(#gc4)"><circle r="12.1" fill="#4b9be0"/><path d="M-12.5,-0.8L-12,-4.8L-9.8,-8L-6.5,-10.6L-2.6,-12.2L-1.2,-10L-3.2,-8.2L-5.6,-6.2L-7,-4L-7.8,-2L-8.4,-0.8Z" fill="#9ae26a" stroke="#203a40" stroke-width="0.5"/><path d="M2.8,-10.8L6.5,-11L7.2,-8.6L4,-8.2Z" fill="#9ae26a" stroke="#203a40" stroke-width="0.5"/><path d="M2.4,-6L5,-6.8L8,-7.2L11,-6.8L12.8,-3L12.8,0L2.6,0L2.1,-3Z" fill="#9ae26a" stroke="#203a40" stroke-width="0.5"/></g></g><circle r="12.1" fill="none" stroke="#1f3868" stroke-width="1.8"/><text transform="translate(0.0,7.8) scale(1.0,1)" text-anchor="middle" font-size="10.2" fill="#111" stroke="#111" stroke-width="0.5">51%</text></g><rect x="400" y="55.55" width="54.17" height="14.50" fill="#4e7dc0"/><rect x="454.17" y="55.55" width="51.83" height="14.50" fill="#98a89e"/><rect x="400" y="55.55" width="106" height="14.50" fill="none" stroke="#2a2222" stroke-width="1.3"/><line x1="454.17" y1="55.55" x2="454.17" y2="70.05" stroke="#2a2222" stroke-width="1.1"/><text x="427.08" y="67.30" text-anchor="middle" font-size="10.7" fill="#f4f8f4" stroke="#f4f8f4" stroke-width="0.45">51.1%</text><text x="480.08" y="67.30" text-anchor="middle" font-size="10.7" fill="#f4f8f4" stroke="#f4f8f4" stroke-width="0.45">49.0%</text><text x="389.1" y="66.90" text-anchor="end" font-size="12.5" font-weight="bold" fill="#111" stroke="#111" stroke-width="0.3">SSP5</text><rect x="400" y="82.55" width="53.00" height="14.50" fill="#4e7dc0"/><rect x="453.00" y="82.55" width="53.00" height="14.50" fill="#98a89e"/><rect x="400" y="82.55" width="106" height="14.50" fill="none" stroke="#2a2222" stroke-width="1.3"/><line x1="453.00" y1="82.55" x2="453.00" y2="97.05" stroke="#2a2222" stroke-width="1.1"/><text x="426.50" y="94.30" text-anchor="middle" font-size="10.7" fill="#f4f8f4" stroke="#f4f8f4" stroke-width="0.45">50.0%</text><text x="479.50" y="94.30" text-anchor="middle" font-size="10.7" fill="#f4f8f4" stroke="#f4f8f4" stroke-width="0.45">50.1%</text><text x="389.1" y="93.90" text-anchor="end" font-size="12.5" font-weight="bold" fill="#111" stroke="#111" stroke-width="0.3">SSP4</text><rect x="400" y="109.75" width="52.15" height="14.50" fill="#4e7dc0"/><rect x="452.15" y="109.75" width="53.85" height="14.50" fill="#98a89e"/><rect x="400" y="109.75" width="106" height="14.50" fill="none" stroke="#2a2222" stroke-width="1.3"/><line x1="452.15" y1="109.75" x2="452.15" y2="124.25" stroke="#2a2222" stroke-width="1.1"/><text x="426.08" y="121.50" text-anchor="middle" font-size="10.7" fill="#f4f8f4" stroke="#f4f8f4" stroke-width="0.45">49.2%</text><text x="479.08" y="121.50" text-anchor="middle" font-size="10.7" fill="#f4f8f4" stroke="#f4f8f4" stroke-width="0.45">50.8%</text><text x="389.1" y="121.10" text-anchor="end" font-size="12.5" font-weight="bold" fill="#111" stroke="#111" stroke-width="0.3">SSP3</text><rect x="400" y="136.85" width="53.00" height="14.50" fill="#4e7dc0"/><rect x="453.00" y="136.85" width="53.00" height="14.50" fill="#98a89e"/><rect x="400" y="136.85" width="106" height="14.50" fill="none" stroke="#2a2222" stroke-width="1.3"/><line x1="453.00" y1="136.85" x2="453.00" y2="151.35" stroke="#2a2222" stroke-width="1.1"/><text x="426.50" y="148.60" text-anchor="middle" font-size="10.7" fill="#f4f8f4" stroke="#f4f8f4" stroke-width="0.45">50.0%</text><text x="479.50" y="148.60" text-anchor="middle" font-size="10.7" fill="#f4f8f4" stroke="#f4f8f4" stroke-width="0.45">50.0%</text><text x="389.1" y="148.20" text-anchor="end" font-size="12.5" font-weight="bold" fill="#111" stroke="#111" stroke-width="0.3">SSP2</text><rect x="400" y="163.95" width="53.74" height="14.50" fill="#4e7dc0"/><rect x="453.74" y="163.95" width="52.26" height="14.50" fill="#98a89e"/><rect x="400" y="163.95" width="106" height="14.50" fill="none" stroke="#2a2222" stroke-width="1.3"/><line x1="453.74" y1="163.95" x2="453.74" y2="178.45" stroke="#2a2222" stroke-width="1.1"/><text x="426.87" y="175.70" text-anchor="middle" font-size="10.7" fill="#f4f8f4" stroke="#f4f8f4" stroke-width="0.45">50.7%</text><text x="479.87" y="175.70" text-anchor="middle" font-size="10.7" fill="#f4f8f4" stroke="#f4f8f4" stroke-width="0.45">49.3%</text><text x="389.1" y="175.30" text-anchor="end" font-size="12.5" font-weight="bold" fill="#111" stroke="#111" stroke-width="0.3">SSP1</text><line x1="400" y1="50" x2="400" y2="184.5" stroke="#111" stroke-width="2"/><line x1="506" y1="50" x2="506" y2="184.5" stroke="#111" stroke-width="2"/><text x="461.7" y="48.9" text-anchor="middle" font-size="15" font-weight="bold" fill="#111" stroke="#111" stroke-width="0.3">2030</text><text x="400" y="203.5" text-anchor="middle" font-size="12" font-weight="bold" fill="#111" stroke="#111" stroke-width="0.3">0%</text><text x="506" y="203.5" text-anchor="middle" font-size="12" font-weight="bold" fill="#111" stroke="#111" stroke-width="0.3">100%</text><g transform="translate(400,38)"><circle r="12.1" fill="#ffffff"/><clipPath id="gr5"><rect x="-13" y="0" width="26" height="13.1"/></clipPath><clipPath id="gc5"><circle r="12.1"/></clipPath><g clip-path="url(#gr5)"><g clip-path="url(#gc5)"><circle r="12.1" fill="#4b9be0"/><path d="M-7.7,0L-7.4,2.2L-6.4,3.8L-5.1,4.8L-3.8,7.3L-2.6,11.2L-2.2,11.2L-1.3,6.7L-0.3,4.8L0.7,2.8L0.4,0Z" fill="#9ae26a" stroke="#203a40" stroke-width="0.5"/><path d="M8,0L8.5,2L9.2,4.4L10.5,3L12.5,1L12.5,0Z" fill="#9ae26a" stroke="#203a40" stroke-width="0.5"/></g></g><circle r="12.1" fill="none" stroke="#1f3868" stroke-width="1.8"/><text transform="translate(0.5,0.2) scale(1.0,1)" text-anchor="middle" font-size="10.2" fill="#111" stroke="#111" stroke-width="0.5">50%</text></g><g transform="translate(506,37.9)"><circle r="12.1" fill="#ffffff"/><clipPath id="gr6"><rect x="-13" y="-13.1" width="26" height="12.6"/></clipPath><clipPath id="gc6"><circle r="12.1"/></clipPath><g clip-path="url(#gr6)"><g clip-path="url(#gc6)"><circle r="12.1" fill="#4b9be0"/><path d="M-12.5,-0.8L-12,-4.8L-9.8,-8L-6.5,-10.6L-2.6,-12.2L-1.2,-10L-3.2,-8.2L-5.6,-6.2L-7,-4L-7.8,-2L-8.4,-0.8Z" fill="#9ae26a" stroke="#203a40" stroke-width="0.5"/><path d="M2.8,-10.8L6.5,-11L7.2,-8.6L4,-8.2Z" fill="#9ae26a" stroke="#203a40" stroke-width="0.5"/><path d="M2.4,-6L5,-6.8L8,-7.2L11,-6.8L12.8,-3L12.8,0L2.6,0L2.1,-3Z" fill="#9ae26a" stroke="#203a40" stroke-width="0.5"/></g></g><circle r="12.1" fill="none" stroke="#1f3868" stroke-width="1.8"/><text transform="translate(0.0,7.8) scale(1.0,1)" text-anchor="middle" font-size="10.2" fill="#111" stroke="#111" stroke-width="0.5">50%</text></g><rect x="555.4" y="55.55" width="55.11" height="14.50" fill="#4e7dc0"/><rect x="610.51" y="55.55" width="51.49" height="14.50" fill="#98a89e"/><rect x="555.4" y="55.55" width="106.60000000000002" height="14.50" fill="none" stroke="#2a2222" stroke-width="1.3"/><line x1="610.51" y1="55.55" x2="610.51" y2="70.05" stroke="#2a2222" stroke-width="1.1"/><text x="582.96" y="67.30" text-anchor="middle" font-size="10.7" fill="#f4f8f4" stroke="#f4f8f4" stroke-width="0.45">51.7%</text><text x="636.26" y="67.30" text-anchor="middle" font-size="10.7" fill="#f4f8f4" stroke="#f4f8f4" stroke-width="0.45">48.3%</text><text x="544.5" y="66.90" text-anchor="end" font-size="12.5" font-weight="bold" fill="#111" stroke="#111" stroke-width="0.3">SSP5</text><rect x="555.4" y="82.55" width="50.74" height="14.50" fill="#4e7dc0"/><rect x="606.14" y="82.55" width="55.86" height="14.50" fill="#98a89e"/><rect x="555.4" y="82.55" width="106.60000000000002" height="14.50" fill="none" stroke="#2a2222" stroke-width="1.3"/><line x1="606.14" y1="82.55" x2="606.14" y2="97.05" stroke="#2a2222" stroke-width="1.1"/><text x="580.77" y="94.30" text-anchor="middle" font-size="10.7" fill="#f4f8f4" stroke="#f4f8f4" stroke-width="0.45">47.6%</text><text x="634.07" y="94.30" text-anchor="middle" font-size="10.7" fill="#f4f8f4" stroke="#f4f8f4" stroke-width="0.45">52.4%</text><text x="544.5" y="93.90" text-anchor="end" font-size="12.5" font-weight="bold" fill="#111" stroke="#111" stroke-width="0.3">SSP4</text><rect x="555.4" y="109.75" width="49.57" height="14.50" fill="#4e7dc0"/><rect x="604.97" y="109.75" width="57.03" height="14.50" fill="#98a89e"/><rect x="555.4" y="109.75" width="106.60000000000002" height="14.50" fill="none" stroke="#2a2222" stroke-width="1.3"/><line x1="604.97" y1="109.75" x2="604.97" y2="124.25" stroke="#2a2222" stroke-width="1.1"/><text x="580.18" y="121.50" text-anchor="middle" font-size="10.7" fill="#f4f8f4" stroke="#f4f8f4" stroke-width="0.45">46.5%</text><text x="633.48" y="121.50" text-anchor="middle" font-size="10.7" fill="#f4f8f4" stroke="#f4f8f4" stroke-width="0.45">53.5%</text><text x="544.5" y="121.10" text-anchor="end" font-size="12.5" font-weight="bold" fill="#111" stroke="#111" stroke-width="0.3">SSP3</text><rect x="555.4" y="136.85" width="52.02" height="14.50" fill="#4e7dc0"/><rect x="607.42" y="136.85" width="54.58" height="14.50" fill="#98a89e"/><rect x="555.4" y="136.85" width="106.60000000000002" height="14.50" fill="none" stroke="#2a2222" stroke-width="1.3"/><line x1="607.42" y1="136.85" x2="607.42" y2="151.35" stroke="#2a2222" stroke-width="1.1"/><text x="581.41" y="148.60" text-anchor="middle" font-size="10.7" fill="#f4f8f4" stroke="#f4f8f4" stroke-width="0.45">48.8%</text><text x="634.71" y="148.60" text-anchor="middle" font-size="10.7" fill="#f4f8f4" stroke="#f4f8f4" stroke-width="0.45">51.2%</text><text x="544.5" y="148.20" text-anchor="end" font-size="12.5" font-weight="bold" fill="#111" stroke="#111" stroke-width="0.3">SSP2</text><rect x="555.4" y="163.95" width="54.26" height="14.50" fill="#4e7dc0"/><rect x="609.66" y="163.95" width="52.34" height="14.50" fill="#98a89e"/><rect x="555.4" y="163.95" width="106.60000000000002" height="14.50" fill="none" stroke="#2a2222" stroke-width="1.3"/><line x1="609.66" y1="163.95" x2="609.66" y2="178.45" stroke="#2a2222" stroke-width="1.1"/><text x="582.53" y="175.70" text-anchor="middle" font-size="10.7" fill="#f4f8f4" stroke="#f4f8f4" stroke-width="0.45">50.9%</text><text x="635.83" y="175.70" text-anchor="middle" font-size="10.7" fill="#f4f8f4" stroke="#f4f8f4" stroke-width="0.45">49.1%</text><text x="544.5" y="175.30" text-anchor="end" font-size="12.5" font-weight="bold" fill="#111" stroke="#111" stroke-width="0.3">SSP1</text><line x1="555.4" y1="50" x2="555.4" y2="184.5" stroke="#111" stroke-width="2"/><line x1="662" y1="50" x2="662" y2="184.5" stroke="#111" stroke-width="2"/><text x="617.3" y="48.9" text-anchor="middle" font-size="15" font-weight="bold" fill="#111" stroke="#111" stroke-width="0.3">2060</text><text x="555.4" y="203.5" text-anchor="middle" font-size="12" font-weight="bold" fill="#111" stroke="#111" stroke-width="0.3">0%</text><text x="662" y="203.5" text-anchor="middle" font-size="12" font-weight="bold" fill="#111" stroke="#111" stroke-width="0.3">100%</text><g transform="translate(555.4,38)"><circle r="12.1" fill="#ffffff"/><clipPath id="gr7"><rect x="-13" y="0" width="26" height="13.1"/></clipPath><clipPath id="gc7"><circle r="12.1"/></clipPath><g clip-path="url(#gr7)"><g clip-path="url(#gc7)"><circle r="12.1" fill="#4b9be0"/><path d="M-7.7,0L-7.4,2.2L-6.4,3.8L-5.1,4.8L-3.8,7.3L-2.6,11.2L-2.2,11.2L-1.3,6.7L-0.3,4.8L0.7,2.8L0.4,0Z" fill="#9ae26a" stroke="#203a40" stroke-width="0.5"/><path d="M8,0L8.5,2L9.2,4.4L10.5,3L12.5,1L12.5,0Z" fill="#9ae26a" stroke="#203a40" stroke-width="0.5"/></g></g><circle r="12.1" fill="none" stroke="#1f3868" stroke-width="1.8"/><text transform="translate(0.5,0.2) scale(1.0,1)" text-anchor="middle" font-size="10.2" fill="#111" stroke="#111" stroke-width="0.5">49%</text></g><g transform="translate(662,37.9)"><circle r="12.1" fill="#ffffff"/><clipPath id="gr8"><rect x="-13" y="-13.1" width="26" height="12.6"/></clipPath><clipPath id="gc8"><circle r="12.1"/></clipPath><g clip-path="url(#gr8)"><g clip-path="url(#gc8)"><circle r="12.1" fill="#4b9be0"/><path d="M-12.5,-0.8L-12,-4.8L-9.8,-8L-6.5,-10.6L-2.6,-12.2L-1.2,-10L-3.2,-8.2L-5.6,-6.2L-7,-4L-7.8,-2L-8.4,-0.8Z" fill="#9ae26a" stroke="#203a40" stroke-width="0.5"/><path d="M2.8,-10.8L6.5,-11L7.2,-8.6L4,-8.2Z" fill="#9ae26a" stroke="#203a40" stroke-width="0.5"/><path d="M2.4,-6L5,-6.8L8,-7.2L11,-6.8L12.8,-3L12.8,0L2.6,0L2.1,-3Z" fill="#9ae26a" stroke="#203a40" stroke-width="0.5"/></g></g><circle r="12.1" fill="none" stroke="#1f3868" stroke-width="1.8"/><text transform="translate(0.0,7.8) scale(1.0,1)" text-anchor="middle" font-size="10.2" fill="#111" stroke="#111" stroke-width="0.5">51%</text></g><rect x="70" y="256.15" width="67.30" height="14.40" fill="#f07581"/><rect x="137.30" y="256.15" width="39.70" height="14.40" fill="#a9a0a0"/><rect x="70" y="256.15" width="107" height="14.40" fill="none" stroke="#2a2222" stroke-width="1.3"/><line x1="137.30" y1="256.15" x2="137.30" y2="270.55" stroke="#2a2222" stroke-width="1.1"/><text x="103.65" y="267.40" text-anchor="middle" font-size="10.7" fill="#fbfafb" stroke="#fbfafb" stroke-width="0.45">62.9%</text><text x="157.15" y="267.40" text-anchor="middle" font-size="10.7" fill="#fbfafb" stroke="#fbfafb" stroke-width="0.45">37.1%</text><text x="59.1" y="267.50" text-anchor="end" font-size="12.5" font-weight="bold" fill="#111" stroke="#111" stroke-width="0.3">SSP5</text><rect x="70" y="283.65" width="67.30" height="14.40" fill="#f07581"/><rect x="137.30" y="283.65" width="39.70" height="14.40" fill="#a9a0a0"/><rect x="70" y="283.65" width="107" height="14.40" fill="none" stroke="#2a2222" stroke-width="1.3"/><line x1="137.30" y1="283.65" x2="137.30" y2="298.05" stroke="#2a2222" stroke-width="1.1"/><text x="103.65" y="294.90" text-anchor="middle" font-size="10.7" fill="#fbfafb" stroke="#fbfafb" stroke-width="0.45">62.9%</text><text x="157.15" y="294.90" text-anchor="middle" font-size="10.7" fill="#fbfafb" stroke="#fbfafb" stroke-width="0.45">37.1%</text><text x="59.1" y="295.00" text-anchor="end" font-size="12.5" font-weight="bold" fill="#111" stroke="#111" stroke-width="0.3">SSP4</text><rect x="70" y="311.15" width="66.98" height="14.40" fill="#f07581"/><rect x="136.98" y="311.15" width="40.02" height="14.40" fill="#a9a0a0"/><rect x="70" y="311.15" width="107" height="14.40" fill="none" stroke="#2a2222" stroke-width="1.3"/><line x1="136.98" y1="311.15" x2="136.98" y2="325.55" stroke="#2a2222" stroke-width="1.1"/><text x="103.49" y="322.40" text-anchor="middle" font-size="10.7" fill="#fbfafb" stroke="#fbfafb" stroke-width="0.45">62.6%</text><text x="156.99" y="322.40" text-anchor="middle" font-size="10.7" fill="#fbfafb" stroke="#fbfafb" stroke-width="0.45">37.4%</text><text x="59.1" y="322.50" text-anchor="end" font-size="12.5" font-weight="bold" fill="#111" stroke="#111" stroke-width="0.3">SSP3</text><rect x="70" y="337.45" width="67.30" height="14.40" fill="#f07581"/><rect x="137.30" y="337.45" width="39.70" height="14.40" fill="#a9a0a0"/><rect x="70" y="337.45" width="107" height="14.40" fill="none" stroke="#2a2222" stroke-width="1.3"/><line x1="137.30" y1="337.45" x2="137.30" y2="351.85" stroke="#2a2222" stroke-width="1.1"/><text x="103.65" y="348.70" text-anchor="middle" font-size="10.7" fill="#fbfafb" stroke="#fbfafb" stroke-width="0.45">62.9%</text><text x="157.15" y="348.70" text-anchor="middle" font-size="10.7" fill="#fbfafb" stroke="#fbfafb" stroke-width="0.45">37.1%</text><text x="59.1" y="348.80" text-anchor="end" font-size="12.5" font-weight="bold" fill="#111" stroke="#111" stroke-width="0.3">SSP2</text><rect x="70" y="364.65" width="67.30" height="14.40" fill="#f07581"/><rect x="137.30" y="364.65" width="39.70" height="14.40" fill="#a9a0a0"/><rect x="70" y="364.65" width="107" height="14.40" fill="none" stroke="#2a2222" stroke-width="1.3"/><line x1="137.30" y1="364.65" x2="137.30" y2="379.05" stroke="#2a2222" stroke-width="1.1"/><text x="103.65" y="375.90" text-anchor="middle" font-size="10.7" fill="#fbfafb" stroke="#fbfafb" stroke-width="0.45">62.9%</text><text x="157.15" y="375.90" text-anchor="middle" font-size="10.7" fill="#fbfafb" stroke="#fbfafb" stroke-width="0.45">37.1%</text><text x="59.1" y="376.00" text-anchor="end" font-size="12.5" font-weight="bold" fill="#111" stroke="#111" stroke-width="0.3">SSP1</text><line x1="70" y1="249" x2="70" y2="385.5" stroke="#111" stroke-width="2"/><line x1="177" y1="249" x2="177" y2="385.5" stroke="#111" stroke-width="2"/><text x="132.2" y="249.4" text-anchor="middle" font-size="15" font-weight="bold" fill="#111" stroke="#111" stroke-width="0.3">2030</text><text x="70" y="404.6" text-anchor="middle" font-size="12" font-weight="bold" fill="#111" stroke="#111" stroke-width="0.3">0%</text><text x="177" y="404.6" text-anchor="middle" font-size="12" font-weight="bold" fill="#111" stroke="#111" stroke-width="0.3">100%</text><g transform="translate(70,237.3)"><circle r="12.1" fill="#ffffff"/><clipPath id="gr9"><rect x="-13" y="-13.1" width="26" height="9.5"/></clipPath><clipPath id="gc9"><circle r="12.1"/></clipPath><g clip-path="url(#gr9)"><g clip-path="url(#gc9)"><circle r="12.1" fill="#4b9be0"/><path d="M-12.5,-0.8L-12,-4.8L-9.8,-8L-6.5,-10.6L-2.6,-12.2L-1.2,-10L-3.2,-8.2L-5.6,-6.2L-7,-4L-7.8,-2L-8.4,-0.8Z" fill="#9ae26a" stroke="#203a40" stroke-width="0.5"/><path d="M2.8,-10.8L6.5,-11L7.2,-8.6L4,-8.2Z" fill="#9ae26a" stroke="#203a40" stroke-width="0.5"/><path d="M2.4,-6L5,-6.8L8,-7.2L11,-6.8L12.8,-3L12.8,0L2.6,0L2.1,-3Z" fill="#9ae26a" stroke="#203a40" stroke-width="0.5"/></g></g><circle r="12.1" fill="none" stroke="#1f3868" stroke-width="1.8"/><text transform="translate(0.7,6.8) scale(0.91,1)" text-anchor="middle" font-size="11.4" fill="#111" stroke="#111" stroke-width="0.5">63%</text></g><g transform="translate(177,236.10000000000002)"><circle r="12.1" fill="#ffffff"/><clipPath id="gr10"><rect x="-13" y="3.5" width="26" height="9.6"/></clipPath><clipPath id="gc10"><circle r="12.1"/></clipPath><g clip-path="url(#gr10)"><g clip-path="url(#gc10)"><circle r="12.1" fill="#4b9be0"/><path d="M-7.8,3.6L-6.8,5L-5.4,6.8L-4,9.2L-2.6,12L-1.2,9.8L0.4,7.4L1.2,5.2L1.5,3.6Z" fill="#9ae26a" stroke="#203a40" stroke-width="0.5"/><path d="M10.1,3.6L10.5,5L11.5,5.2L12.5,3.6Z" fill="#9ae26a" stroke="#203a40" stroke-width="0.5"/></g></g><circle r="12.1" fill="none" stroke="#1f3868" stroke-width="1.8"/><text transform="translate(1.4,1.5) scale(0.91,1)" text-anchor="middle" font-size="11.4" fill="#111" stroke="#111" stroke-width="0.5">37%</text></g><rect x="228" y="256.15" width="67.52" height="14.40" fill="#f07581"/><rect x="295.52" y="256.15" width="39.48" height="14.40" fill="#a9a0a0"/><rect x="228" y="256.15" width="107" height="14.40" fill="none" stroke="#2a2222" stroke-width="1.3"/><line x1="295.52" y1="256.15" x2="295.52" y2="270.55" stroke="#2a2222" stroke-width="1.1"/><text x="261.76" y="267.40" text-anchor="middle" font-size="10.7" fill="#fbfafb" stroke="#fbfafb" stroke-width="0.45">63.1%</text><text x="315.26" y="267.40" text-anchor="middle" font-size="10.7" fill="#fbfafb" stroke="#fbfafb" stroke-width="0.45">36.9%</text><text x="217.1" y="267.50" text-anchor="end" font-size="12.5" font-weight="bold" fill="#111" stroke="#111" stroke-width="0.3">SSP5</text><rect x="228" y="283.65" width="66.66" height="14.40" fill="#f07581"/><rect x="294.66" y="283.65" width="40.34" height="14.40" fill="#a9a0a0"/><rect x="228" y="283.65" width="107" height="14.40" fill="none" stroke="#2a2222" stroke-width="1.3"/><line x1="294.66" y1="283.65" x2="294.66" y2="298.05" stroke="#2a2222" stroke-width="1.1"/><text x="261.33" y="294.90" text-anchor="middle" font-size="10.7" fill="#fbfafb" stroke="#fbfafb" stroke-width="0.45">62.3%</text><text x="314.83" y="294.90" text-anchor="middle" font-size="10.7" fill="#fbfafb" stroke="#fbfafb" stroke-width="0.45">37.7%</text><text x="217.1" y="295.00" text-anchor="end" font-size="12.5" font-weight="bold" fill="#111" stroke="#111" stroke-width="0.3">SSP4</text><rect x="228" y="311.15" width="65.48" height="14.40" fill="#f07581"/><rect x="293.48" y="311.15" width="41.52" height="14.40" fill="#a9a0a0"/><rect x="228" y="311.15" width="107" height="14.40" fill="none" stroke="#2a2222" stroke-width="1.3"/><line x1="293.48" y1="311.15" x2="293.48" y2="325.55" stroke="#2a2222" stroke-width="1.1"/><text x="260.74" y="322.40" text-anchor="middle" font-size="10.7" fill="#fbfafb" stroke="#fbfafb" stroke-width="0.45">61.2%</text><text x="314.24" y="322.40" text-anchor="middle" font-size="10.7" fill="#fbfafb" stroke="#fbfafb" stroke-width="0.45">38.8%</text><text x="217.1" y="322.50" text-anchor="end" font-size="12.5" font-weight="bold" fill="#111" stroke="#111" stroke-width="0.3">SSP3</text><rect x="228" y="337.45" width="66.66" height="14.40" fill="#f07581"/><rect x="294.66" y="337.45" width="40.34" height="14.40" fill="#a9a0a0"/><rect x="228" y="337.45" width="107" height="14.40" fill="none" stroke="#2a2222" stroke-width="1.3"/><line x1="294.66" y1="337.45" x2="294.66" y2="351.85" stroke="#2a2222" stroke-width="1.1"/><text x="261.33" y="348.70" text-anchor="middle" font-size="10.7" fill="#fbfafb" stroke="#fbfafb" stroke-width="0.45">62.3%</text><text x="314.83" y="348.70" text-anchor="middle" font-size="10.7" fill="#fbfafb" stroke="#fbfafb" stroke-width="0.45">37.7%</text><text x="217.1" y="348.80" text-anchor="end" font-size="12.5" font-weight="bold" fill="#111" stroke="#111" stroke-width="0.3">SSP2</text><rect x="228" y="364.65" width="67.09" height="14.40" fill="#f07581"/><rect x="295.09" y="364.65" width="39.91" height="14.40" fill="#a9a0a0"/><rect x="228" y="364.65" width="107" height="14.40" fill="none" stroke="#2a2222" stroke-width="1.3"/><line x1="295.09" y1="364.65" x2="295.09" y2="379.05" stroke="#2a2222" stroke-width="1.1"/><text x="261.54" y="375.90" text-anchor="middle" font-size="10.7" fill="#fbfafb" stroke="#fbfafb" stroke-width="0.45">62.7%</text><text x="315.04" y="375.90" text-anchor="middle" font-size="10.7" fill="#fbfafb" stroke="#fbfafb" stroke-width="0.45">37.3%</text><text x="217.1" y="376.00" text-anchor="end" font-size="12.5" font-weight="bold" fill="#111" stroke="#111" stroke-width="0.3">SSP1</text><line x1="228" y1="249" x2="228" y2="385.5" stroke="#111" stroke-width="2"/><line x1="335" y1="249" x2="335" y2="385.5" stroke="#111" stroke-width="2"/><text x="290.2" y="249.4" text-anchor="middle" font-size="15" font-weight="bold" fill="#111" stroke="#111" stroke-width="0.3">2060</text><text x="228" y="404.6" text-anchor="middle" font-size="12" font-weight="bold" fill="#111" stroke="#111" stroke-width="0.3">0%</text><text x="335" y="404.6" text-anchor="middle" font-size="12" font-weight="bold" fill="#111" stroke="#111" stroke-width="0.3">100%</text><g transform="translate(228,237.3)"><circle r="12.1" fill="#ffffff"/><clipPath id="gr11"><rect x="-13" y="-13.1" width="26" height="9.5"/></clipPath><clipPath id="gc11"><circle r="12.1"/></clipPath><g clip-path="url(#gr11)"><g clip-path="url(#gc11)"><circle r="12.1" fill="#4b9be0"/><path d="M-12.5,-0.8L-12,-4.8L-9.8,-8L-6.5,-10.6L-2.6,-12.2L-1.2,-10L-3.2,-8.2L-5.6,-6.2L-7,-4L-7.8,-2L-8.4,-0.8Z" fill="#9ae26a" stroke="#203a40" stroke-width="0.5"/><path d="M2.8,-10.8L6.5,-11L7.2,-8.6L4,-8.2Z" fill="#9ae26a" stroke="#203a40" stroke-width="0.5"/><path d="M2.4,-6L5,-6.8L8,-7.2L11,-6.8L12.8,-3L12.8,0L2.6,0L2.1,-3Z" fill="#9ae26a" stroke="#203a40" stroke-width="0.5"/></g></g><circle r="12.1" fill="none" stroke="#1f3868" stroke-width="1.8"/><text transform="translate(0.7,6.8) scale(0.91,1)" text-anchor="middle" font-size="11.4" fill="#111" stroke="#111" stroke-width="0.5">62%</text></g><g transform="translate(335,236.10000000000002)"><circle r="12.1" fill="#ffffff"/><clipPath id="gr12"><rect x="-13" y="3.5" width="26" height="9.6"/></clipPath><clipPath id="gc12"><circle r="12.1"/></clipPath><g clip-path="url(#gr12)"><g clip-path="url(#gc12)"><circle r="12.1" fill="#4b9be0"/><path d="M-7.8,3.6L-6.8,5L-5.4,6.8L-4,9.2L-2.6,12L-1.2,9.8L0.4,7.4L1.2,5.2L1.5,3.6Z" fill="#9ae26a" stroke="#203a40" stroke-width="0.5"/><path d="M10.1,3.6L10.5,5L11.5,5.2L12.5,3.6Z" fill="#9ae26a" stroke="#203a40" stroke-width="0.5"/></g></g><circle r="12.1" fill="none" stroke="#1f3868" stroke-width="1.8"/><text transform="translate(1.4,1.5) scale(0.91,1)" text-anchor="middle" font-size="11.4" fill="#111" stroke="#111" stroke-width="0.5">38%</text></g><rect x="401" y="256.15" width="67.41" height="14.40" fill="#e07a79"/><rect x="468.41" y="256.15" width="39.59" height="14.40" fill="#98a89e"/><rect x="401" y="256.15" width="107" height="14.40" fill="none" stroke="#2a2222" stroke-width="1.3"/><line x1="468.41" y1="256.15" x2="468.41" y2="270.55" stroke="#2a2222" stroke-width="1.1"/><text x="434.70" y="267.40" text-anchor="middle" font-size="10.7" fill="#f4f8f4" stroke="#f4f8f4" stroke-width="0.45">63.0%</text><text x="488.20" y="267.40" text-anchor="middle" font-size="10.7" fill="#f4f8f4" stroke="#f4f8f4" stroke-width="0.45">37.0%</text><text x="390.1" y="267.50" text-anchor="end" font-size="12.5" font-weight="bold" fill="#111" stroke="#111" stroke-width="0.3">SSP5</text><rect x="401" y="283.65" width="67.73" height="14.40" fill="#e07a79"/><rect x="468.73" y="283.65" width="39.27" height="14.40" fill="#98a89e"/><rect x="401" y="283.65" width="107" height="14.40" fill="none" stroke="#2a2222" stroke-width="1.3"/><line x1="468.73" y1="283.65" x2="468.73" y2="298.05" stroke="#2a2222" stroke-width="1.1"/><text x="434.87" y="294.90" text-anchor="middle" font-size="10.7" fill="#f4f8f4" stroke="#f4f8f4" stroke-width="0.45">63.3%</text><text x="488.37" y="294.90" text-anchor="middle" font-size="10.7" fill="#f4f8f4" stroke="#f4f8f4" stroke-width="0.45">36.7%</text><text x="390.1" y="295.00" text-anchor="end" font-size="12.5" font-weight="bold" fill="#111" stroke="#111" stroke-width="0.3">SSP4</text><rect x="401" y="311.15" width="67.41" height="14.40" fill="#e07a79"/><rect x="468.41" y="311.15" width="39.59" height="14.40" fill="#98a89e"/><rect x="401" y="311.15" width="107" height="14.40" fill="none" stroke="#2a2222" stroke-width="1.3"/><line x1="468.41" y1="311.15" x2="468.41" y2="325.55" stroke="#2a2222" stroke-width="1.1"/><text x="434.70" y="322.40" text-anchor="middle" font-size="10.7" fill="#f4f8f4" stroke="#f4f8f4" stroke-width="0.45">63.0%</text><text x="488.20" y="322.40" text-anchor="middle" font-size="10.7" fill="#f4f8f4" stroke="#f4f8f4" stroke-width="0.45">37.0%</text><text x="390.1" y="322.50" text-anchor="end" font-size="12.5" font-weight="bold" fill="#111" stroke="#111" stroke-width="0.3">SSP3</text><rect x="401" y="337.45" width="67.62" height="14.40" fill="#e07a79"/><rect x="468.62" y="337.45" width="39.38" height="14.40" fill="#98a89e"/><rect x="401" y="337.45" width="107" height="14.40" fill="none" stroke="#2a2222" stroke-width="1.3"/><line x1="468.62" y1="337.45" x2="468.62" y2="351.85" stroke="#2a2222" stroke-width="1.1"/><text x="434.81" y="348.70" text-anchor="middle" font-size="10.7" fill="#f4f8f4" stroke="#f4f8f4" stroke-width="0.45">63.2%</text><text x="488.31" y="348.70" text-anchor="middle" font-size="10.7" fill="#f4f8f4" stroke="#f4f8f4" stroke-width="0.45">36.8%</text><text x="390.1" y="348.80" text-anchor="end" font-size="12.5" font-weight="bold" fill="#111" stroke="#111" stroke-width="0.3">SSP2</text><rect x="401" y="364.65" width="67.52" height="14.40" fill="#e07a79"/><rect x="468.52" y="364.65" width="39.48" height="14.40" fill="#98a89e"/><rect x="401" y="364.65" width="107" height="14.40" fill="none" stroke="#2a2222" stroke-width="1.3"/><line x1="468.52" y1="364.65" x2="468.52" y2="379.05" stroke="#2a2222" stroke-width="1.1"/><text x="434.76" y="375.90" text-anchor="middle" font-size="10.7" fill="#f4f8f4" stroke="#f4f8f4" stroke-width="0.45">63.1%</text><text x="488.26" y="375.90" text-anchor="middle" font-size="10.7" fill="#f4f8f4" stroke="#f4f8f4" stroke-width="0.45">36.9%</text><text x="390.1" y="376.00" text-anchor="end" font-size="12.5" font-weight="bold" fill="#111" stroke="#111" stroke-width="0.3">SSP1</text><line x1="401" y1="249" x2="401" y2="385.5" stroke="#111" stroke-width="2"/><line x1="508" y1="249" x2="508" y2="385.5" stroke="#111" stroke-width="2"/><text x="463.5" y="249.4" text-anchor="middle" font-size="15" font-weight="bold" fill="#111" stroke="#111" stroke-width="0.3">2030</text><text x="401" y="404.6" text-anchor="middle" font-size="12" font-weight="bold" fill="#111" stroke="#111" stroke-width="0.3">0%</text><text x="508" y="404.6" text-anchor="middle" font-size="12" font-weight="bold" fill="#111" stroke="#111" stroke-width="0.3">100%</text><g transform="translate(401,237.3)"><circle r="12.1" fill="#ffffff"/><clipPath id="gr13"><rect x="-13" y="-13.1" width="26" height="9.5"/></clipPath><clipPath id="gc13"><circle r="12.1"/></clipPath><g clip-path="url(#gr13)"><g clip-path="url(#gc13)"><circle r="12.1" fill="#4b9be0"/><path d="M-12.5,-0.8L-12,-4.8L-9.8,-8L-6.5,-10.6L-2.6,-12.2L-1.2,-10L-3.2,-8.2L-5.6,-6.2L-7,-4L-7.8,-2L-8.4,-0.8Z" fill="#9ae26a" stroke="#203a40" stroke-width="0.5"/><path d="M2.8,-10.8L6.5,-11L7.2,-8.6L4,-8.2Z" fill="#9ae26a" stroke="#203a40" stroke-width="0.5"/><path d="M2.4,-6L5,-6.8L8,-7.2L11,-6.8L12.8,-3L12.8,0L2.6,0L2.1,-3Z" fill="#9ae26a" stroke="#203a40" stroke-width="0.5"/></g></g><circle r="12.1" fill="none" stroke="#1f3868" stroke-width="1.8"/><text transform="translate(0.7,6.8) scale(0.91,1)" text-anchor="middle" font-size="11.4" fill="#111" stroke="#111" stroke-width="0.5">63%</text></g><g transform="translate(508,236.10000000000002)"><circle r="12.1" fill="#ffffff"/><clipPath id="gr14"><rect x="-13" y="3.5" width="26" height="9.6"/></clipPath><clipPath id="gc14"><circle r="12.1"/></clipPath><g clip-path="url(#gr14)"><g clip-path="url(#gc14)"><circle r="12.1" fill="#4b9be0"/><path d="M-7.8,3.6L-6.8,5L-5.4,6.8L-4,9.2L-2.6,12L-1.2,9.8L0.4,7.4L1.2,5.2L1.5,3.6Z" fill="#9ae26a" stroke="#203a40" stroke-width="0.5"/><path d="M10.1,3.6L10.5,5L11.5,5.2L12.5,3.6Z" fill="#9ae26a" stroke="#203a40" stroke-width="0.5"/></g></g><circle r="12.1" fill="none" stroke="#1f3868" stroke-width="1.8"/><text transform="translate(1.4,1.5) scale(0.91,1)" text-anchor="middle" font-size="11.4" fill="#111" stroke="#111" stroke-width="0.5">37%</text></g><rect x="557" y="256.15" width="65.19" height="14.40" fill="#e07a79"/><rect x="622.19" y="256.15" width="40.81" height="14.40" fill="#98a89e"/><rect x="557" y="256.15" width="106" height="14.40" fill="none" stroke="#2a2222" stroke-width="1.3"/><line x1="622.19" y1="256.15" x2="622.19" y2="270.55" stroke="#2a2222" stroke-width="1.1"/><text x="589.60" y="267.40" text-anchor="middle" font-size="10.7" fill="#f4f8f4" stroke="#f4f8f4" stroke-width="0.45">61.5%</text><text x="642.60" y="267.40" text-anchor="middle" font-size="10.7" fill="#f4f8f4" stroke="#f4f8f4" stroke-width="0.45">38.5%</text><text x="546.1" y="267.50" text-anchor="end" font-size="12.5" font-weight="bold" fill="#111" stroke="#111" stroke-width="0.3">SSP5</text><rect x="557" y="283.65" width="66.25" height="14.40" fill="#e07a79"/><rect x="623.25" y="283.65" width="39.75" height="14.40" fill="#98a89e"/><rect x="557" y="283.65" width="106" height="14.40" fill="none" stroke="#2a2222" stroke-width="1.3"/><line x1="623.25" y1="283.65" x2="623.25" y2="298.05" stroke="#2a2222" stroke-width="1.1"/><text x="590.12" y="294.90" text-anchor="middle" font-size="10.7" fill="#f4f8f4" stroke="#f4f8f4" stroke-width="0.45">62.5%</text><text x="643.12" y="294.90" text-anchor="middle" font-size="10.7" fill="#f4f8f4" stroke="#f4f8f4" stroke-width="0.45">37.5%</text><text x="546.1" y="295.00" text-anchor="end" font-size="12.5" font-weight="bold" fill="#111" stroke="#111" stroke-width="0.3">SSP4</text><rect x="557" y="311.15" width="64.87" height="14.40" fill="#e07a79"/><rect x="621.87" y="311.15" width="41.13" height="14.40" fill="#98a89e"/><rect x="557" y="311.15" width="106" height="14.40" fill="none" stroke="#2a2222" stroke-width="1.3"/><line x1="621.87" y1="311.15" x2="621.87" y2="325.55" stroke="#2a2222" stroke-width="1.1"/><text x="589.44" y="322.40" text-anchor="middle" font-size="10.7" fill="#f4f8f4" stroke="#f4f8f4" stroke-width="0.45">61.2%</text><text x="642.44" y="322.40" text-anchor="middle" font-size="10.7" fill="#f4f8f4" stroke="#f4f8f4" stroke-width="0.45">38.8%</text><text x="546.1" y="322.50" text-anchor="end" font-size="12.5" font-weight="bold" fill="#111" stroke="#111" stroke-width="0.3">SSP3</text><rect x="557" y="337.45" width="65.40" height="14.40" fill="#e07a79"/><rect x="622.40" y="337.45" width="40.60" height="14.40" fill="#98a89e"/><rect x="557" y="337.45" width="106" height="14.40" fill="none" stroke="#2a2222" stroke-width="1.3"/><line x1="622.40" y1="337.45" x2="622.40" y2="351.85" stroke="#2a2222" stroke-width="1.1"/><text x="589.70" y="348.70" text-anchor="middle" font-size="10.7" fill="#f4f8f4" stroke="#f4f8f4" stroke-width="0.45">61.7%</text><text x="642.70" y="348.70" text-anchor="middle" font-size="10.7" fill="#f4f8f4" stroke="#f4f8f4" stroke-width="0.45">38.3%</text><text x="546.1" y="348.80" text-anchor="end" font-size="12.5" font-weight="bold" fill="#111" stroke="#111" stroke-width="0.3">SSP2</text><rect x="557" y="364.65" width="65.19" height="14.40" fill="#e07a79"/><rect x="622.19" y="364.65" width="40.81" height="14.40" fill="#98a89e"/><rect x="557" y="364.65" width="106" height="14.40" fill="none" stroke="#2a2222" stroke-width="1.3"/><line x1="622.19" y1="364.65" x2="622.19" y2="379.05" stroke="#2a2222" stroke-width="1.1"/><text x="589.60" y="375.90" text-anchor="middle" font-size="10.7" fill="#f4f8f4" stroke="#f4f8f4" stroke-width="0.45">61.5%</text><text x="642.60" y="375.90" text-anchor="middle" font-size="10.7" fill="#f4f8f4" stroke="#f4f8f4" stroke-width="0.45">38.5%</text><text x="546.1" y="376.00" text-anchor="end" font-size="12.5" font-weight="bold" fill="#111" stroke="#111" stroke-width="0.3">SSP1</text><line x1="557" y1="249" x2="557" y2="385.5" stroke="#111" stroke-width="2"/><line x1="663" y1="249" x2="663" y2="385.5" stroke="#111" stroke-width="2"/><text x="619" y="249.4" text-anchor="middle" font-size="15" font-weight="bold" fill="#111" stroke="#111" stroke-width="0.3">2060</text><text x="557" y="404.6" text-anchor="middle" font-size="12" font-weight="bold" fill="#111" stroke="#111" stroke-width="0.3">0%</text><text x="663" y="404.6" text-anchor="middle" font-size="12" font-weight="bold" fill="#111" stroke="#111" stroke-width="0.3">100%</text><g transform="translate(557,237.3)"><circle r="12.1" fill="#ffffff"/><clipPath id="gr15"><rect x="-13" y="-13.1" width="26" height="9.5"/></clipPath><clipPath id="gc15"><circle r="12.1"/></clipPath><g clip-path="url(#gr15)"><g clip-path="url(#gc15)"><circle r="12.1" fill="#4b9be0"/><path d="M-12.5,-0.8L-12,-4.8L-9.8,-8L-6.5,-10.6L-2.6,-12.2L-1.2,-10L-3.2,-8.2L-5.6,-6.2L-7,-4L-7.8,-2L-8.4,-0.8Z" fill="#9ae26a" stroke="#203a40" stroke-width="0.5"/><path d="M2.8,-10.8L6.5,-11L7.2,-8.6L4,-8.2Z" fill="#9ae26a" stroke="#203a40" stroke-width="0.5"/><path d="M2.4,-6L5,-6.8L8,-7.2L11,-6.8L12.8,-3L12.8,0L2.6,0L2.1,-3Z" fill="#9ae26a" stroke="#203a40" stroke-width="0.5"/></g></g><circle r="12.1" fill="none" stroke="#1f3868" stroke-width="1.8"/><text transform="translate(0.7,6.8) scale(0.91,1)" text-anchor="middle" font-size="11.4" fill="#111" stroke="#111" stroke-width="0.5">62%</text></g><g transform="translate(663,236.10000000000002)"><circle r="12.1" fill="#ffffff"/><clipPath id="gr16"><rect x="-13" y="3.5" width="26" height="9.6"/></clipPath><clipPath id="gc16"><circle r="12.1"/></clipPath><g clip-path="url(#gr16)"><g clip-path="url(#gc16)"><circle r="12.1" fill="#4b9be0"/><path d="M-7.8,3.6L-6.8,5L-5.4,6.8L-4,9.2L-2.6,12L-1.2,9.8L0.4,7.4L1.2,5.2L1.5,3.6Z" fill="#9ae26a" stroke="#203a40" stroke-width="0.5"/><path d="M10.1,3.6L10.5,5L11.5,5.2L12.5,3.6Z" fill="#9ae26a" stroke="#203a40" stroke-width="0.5"/></g></g><circle r="12.1" fill="none" stroke="#1f3868" stroke-width="1.8"/><text transform="translate(1.4,1.5) scale(0.91,1)" text-anchor="middle" font-size="11.4" fill="#111" stroke="#111" stroke-width="0.5">38%</text></g><rect x="31.45" y="420.3" width="13.3" height="8.8" fill="#6078c4"/><rect x="38.6" y="420.3" width="6.15" height="8.8" fill="#f07581"/><rect x="31.45" y="420.3" width="13.3" height="8.8" fill="none" stroke="#1c2b52" stroke-width="1.3"/><text x="48.5" y="429.4" font-size="12.5" fill="#111" stroke="#111" stroke-width="0.2">Near region</text><rect x="131.75" y="420.3" width="13.3" height="8.8" fill="#a0a0a0" stroke="#1c2b52" stroke-width="1.3"/><text x="150" y="429.4" font-size="12.5" fill="#111" stroke="#111" stroke-width="0.2">Far region</text><rect x="225.5" y="420.3" width="13.3" height="8.8" fill="#f9f0f1" stroke="#1c2b52" stroke-width="1.3"/><text x="243.8" y="429.4" font-size="12.5" fill="#111" stroke="#111" stroke-width="0.2">a. Considering the impact of aging</text><rect x="454.15" y="420.45" width="13.1" height="8.4" fill="#c2e8b4" stroke="#1c2b52" stroke-width="1.3"/><text x="472.6" y="429.4" font-size="12.5" fill="#111" stroke="#111" stroke-width="0.2">b. Not considering the impact of aging</text></svg>
</body></html>
